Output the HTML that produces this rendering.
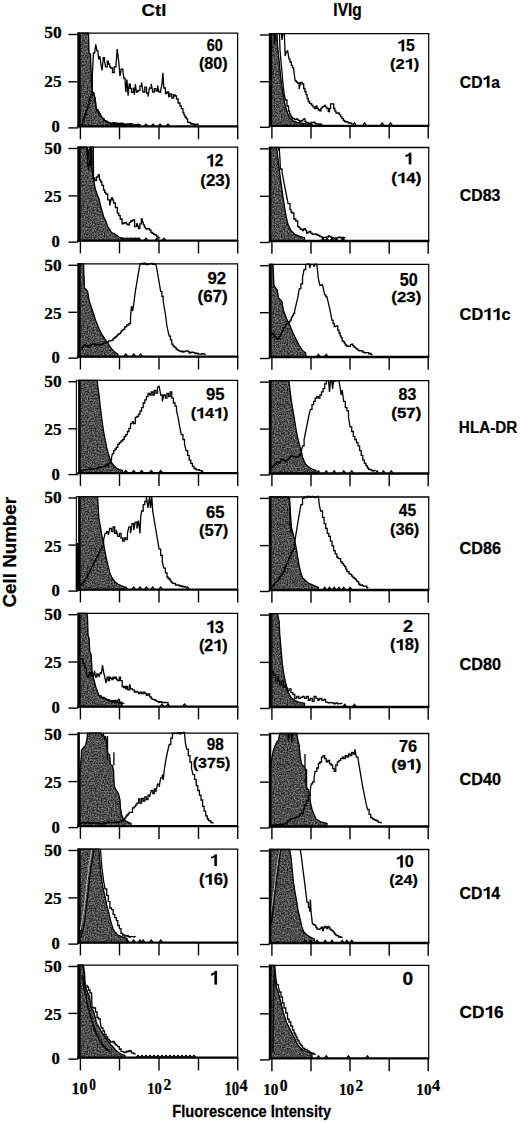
<!DOCTYPE html><html><head><meta charset="utf-8"><style>html,body{margin:0;padding:0;background:#fff;}svg{display:block;}text{font-family:"Liberation Sans",sans-serif;font-weight:bold;fill:#000;stroke:#000;stroke-width:0.25px;}</style></head><body>
<svg width="520" height="1124" viewBox="0 0 520 1124">
<defs><filter id="nz" x="0" y="0" width="120" height="120" filterUnits="userSpaceOnUse" color-interpolation-filters="sRGB"><feTurbulence type="fractalNoise" baseFrequency="0.7" numOctaves="2" seed="5"/><feColorMatrix type="matrix" values="0.8 0 0 0 -0.09  0.8 0 0 0 -0.09  0.8 0 0 0 -0.09  0 0 0 0 1"/></filter><pattern id="gp" patternUnits="userSpaceOnUse" width="120" height="120"><rect width="120" height="120" filter="url(#nz)"/></pattern></defs>
<rect width="520" height="1124" fill="#fff"/>
<polygon points="80.0,126.4 80.0,33.1 88.5,33.1 89.0,53.0 90.5,54.0 91.2,75.0 92.3,92.3 93.5,92.3 95.2,99.2 96.3,109.6 98.1,111.9 100.4,116.0 102.7,118.8 105.6,121.2 108.5,122.9 112.0,124.0 120.0,124.5 130.0,125.0 130.0,126.4" fill="#525252"/>
<polygon points="80.0,126.4 80.0,33.1 88.5,33.1 89.0,53.0 90.5,54.0 91.2,75.0 92.3,92.3 93.5,92.3 95.2,99.2 96.3,109.6 98.1,111.9 100.4,116.0 102.7,118.8 105.6,121.2 108.5,122.9 112.0,124.0 120.0,124.5 130.0,125.0 130.0,126.4" fill="url(#gp)" stroke="#000" stroke-width="1.3"/>
<polyline points="81.5,125.0 83.0,125.0 83.0,120.0 84.0,120.0 84.0,116.8 85.0,116.8 85.0,114.0 86.0,114.0 86.0,110.5 87.0,110.5 87.0,108.0 88.0,108.0 88.0,104.7 89.0,104.7 89.0,101.0 90.0,101.0 90.0,97.4 91.0,97.4 91.0,95.0 92.3,95.0 92.3,91.7 92.3,75.0 93.5,53.0 94.6,53.0 94.6,53.0 95.8,44.4 96.9,50.8 98.0,50.8 98.0,53.0 98.7,58.8 99.8,58.8 99.8,56.0 101.0,64.6 102.1,70.4 103.3,57.7 104.5,57.7 104.5,61.0 105.6,66.9 107.3,66.9 107.3,61.2 108.4,61.2 108.4,64.0 109.6,64.0 109.6,66.9 110.7,66.9 110.7,68.0 112.5,68.0 112.5,72.7 114.2,72.7 114.2,66.9 116.0,66.9 116.0,64.6 117.2,49.0 118.8,62.3 120.0,76.2 121.2,69.2 122.9,69.2 122.9,71.5 124.0,78.5 125.1,78.5 125.1,80.8 125.8,92.3 126.9,79.6 128.1,95.8 129.2,84.2 130.3,84.2 130.3,88.3 131.5,88.3 131.5,92.3 133.3,92.3 133.3,87.7 134.4,94.6 135.3,84.0 136.5,92.0 137.5,92.0 137.5,91.0 138.5,91.0 138.5,90.3 140.0,90.3 140.0,86.0 141.6,86.0 141.6,82.4 143.0,92.0 144.8,92.0 144.8,87.1 146.5,87.1 146.5,93.0 148.0,93.0 148.0,96.6 149.5,88.0 151.2,88.0 151.2,84.0 152.8,92.0 154.3,92.0 154.3,88.7 156.0,88.7 156.0,91.0 157.5,91.0 157.5,85.5 159.0,92.0 160.7,92.0 160.7,90.3 162.0,84.0 162.9,72.8 163.8,88.0 165.4,88.0 165.4,93.5 167.0,93.5 167.0,92.0 168.6,92.0 168.6,96.6 170.0,96.6 170.0,94.0 171.8,94.0 171.8,98.2 173.5,98.2 173.5,95.0 175.0,95.0 175.0,96.0 176.5,96.0 176.5,99.0 178.1,99.0 178.1,103.0 180.0,103.0 180.0,106.0 181.4,106.0 181.4,108.6 182.9,108.6 182.9,112.5 183.9,112.5 183.9,114.8 185.0,114.8 185.0,117.0 186.3,117.0 186.3,118.9 187.6,118.9 187.6,122.0 188.7,122.0 188.7,122.6 189.7,122.6 189.7,122.7 190.8,122.7 190.8,124.0 192.0,124.0 192.0,123.6 193.2,123.6 193.2,124.1 194.4,124.1 194.4,124.8 195.6,124.8 195.6,124.5 196.8,124.5 196.8,124.2 198.0,124.2 198.0,125.0" fill="none" stroke="#000" stroke-width="1.3" stroke-linejoin="miter" stroke-miterlimit="2"/>
<polyline points="93.5,92.3 95.2,99.2 96.3,109.6 98.1,109.6 98.1,111.9 99.2,111.9 99.2,113.6 100.4,113.6 100.4,116.0 101.6,116.0 101.6,117.6 102.7,117.6 102.7,118.8 104.2,118.8 104.2,120.6 105.6,120.6 105.6,121.2 107.0,121.2 107.0,122.2 108.5,122.2 108.5,122.9 109.7,122.9 109.7,123.0 110.8,123.0 110.8,124.0 112.0,124.0 112.0,123.5 113.0,123.5 113.0,122.6 114.0,122.6 114.0,123.5 115.0,123.5 115.0,122.8 116.0,122.8 116.0,123.1 117.0,123.1 117.0,123.4 118.0,123.4 118.0,124.5 119.0,124.5 119.0,123.5 120.0,123.5 120.0,123.4 121.0,123.4 121.0,123.2 122.0,123.2 122.0,124.1 123.0,124.1 123.0,123.7 124.0,123.7 124.0,124.6 125.0,124.6 125.0,124.5 126.0,124.5 126.0,124.4 127.0,124.4 127.0,123.8 128.0,123.8 128.0,123.8 129.0,123.8 129.0,124.1 130.0,124.1 130.0,123.6 131.0,123.6 131.0,123.8 132.0,123.8 132.0,124.2 133.0,124.2 133.0,124.8 134.0,124.8 134.0,125.1 135.0,125.1 135.0,124.8 136.0,124.8 136.0,124.6 137.0,124.6 137.0,125.0 138.0,125.0 138.0,124.9 139.0,124.9 139.0,124.7 140.0,124.7 140.0,125.0" fill="none" stroke="#000" stroke-width="1.3" stroke-linejoin="miter" stroke-miterlimit="2"/>
<polyline points="110.4,125.8 112.0,124.2 113.6,125.8" fill="none" stroke="#000" stroke-width="1.3" stroke-linejoin="miter" stroke-miterlimit="2"/>
<polyline points="116.4,125.8 118.0,124.2 119.6,125.8" fill="none" stroke="#000" stroke-width="1.3" stroke-linejoin="miter" stroke-miterlimit="2"/>
<polyline points="123.4,125.8 125.0,124.2 126.6,125.8" fill="none" stroke="#000" stroke-width="1.3" stroke-linejoin="miter" stroke-miterlimit="2"/>
<polyline points="129.4,125.8 131.0,124.2 132.6,125.8" fill="none" stroke="#000" stroke-width="1.3" stroke-linejoin="miter" stroke-miterlimit="2"/>
<polyline points="136.4,125.8 138.0,124.2 139.6,125.8" fill="none" stroke="#000" stroke-width="1.3" stroke-linejoin="miter" stroke-miterlimit="2"/>
<polyline points="144.4,125.8 146.0,124.2 147.6,125.8" fill="none" stroke="#000" stroke-width="1.3" stroke-linejoin="miter" stroke-miterlimit="2"/>
<polyline points="151.4,125.8 153.0,124.2 154.6,125.8" fill="none" stroke="#000" stroke-width="1.3" stroke-linejoin="miter" stroke-miterlimit="2"/>
<polyline points="158.4,125.8 160.0,124.2 161.6,125.8" fill="none" stroke="#000" stroke-width="1.3" stroke-linejoin="miter" stroke-miterlimit="2"/>
<polyline points="166.4,125.8 168.0,124.2 169.6,125.8" fill="none" stroke="#000" stroke-width="1.3" stroke-linejoin="miter" stroke-miterlimit="2"/>
<rect x="77.3" y="32.49999999999999" width="2.6000000000000085" height="94.70000000000002" fill="#000"/>
<line x1="77.3" y1="33.099999999999994" x2="238.2" y2="33.099999999999994" stroke="#000" stroke-width="1.3"/>
<line x1="237.6" y1="33.099999999999994" x2="237.6" y2="126.4" stroke="#000" stroke-width="1.2"/>
<line x1="77.3" y1="126.4" x2="238.2" y2="126.4" stroke="#000" stroke-width="2.3"/>
<line x1="68.4" y1="34.5" x2="77.3" y2="34.5" stroke="#000" stroke-width="1.4"/>
<line x1="68.4" y1="81.8" x2="77.3" y2="81.8" stroke="#000" stroke-width="1.4"/>
<line x1="68.4" y1="127.9" x2="77.3" y2="127.9" stroke="#000" stroke-width="1.4"/>
<line x1="77.8" y1="126.4" x2="77.8" y2="128.6" stroke="#000" stroke-width="1"/>
<line x1="80.4" y1="126.4" x2="80.4" y2="139.20000000000002" stroke="#000" stroke-width="1.4"/>
<line x1="119.5" y1="126.4" x2="119.5" y2="139.20000000000002" stroke="#000" stroke-width="1.4"/>
<line x1="159" y1="126.4" x2="159" y2="139.20000000000002" stroke="#000" stroke-width="1.4"/>
<line x1="198.5" y1="126.4" x2="198.5" y2="139.20000000000002" stroke="#000" stroke-width="1.4"/>
<line x1="237.7" y1="126.4" x2="237.7" y2="139.20000000000002" stroke="#000" stroke-width="1.4"/>
<text transform="translate(44.25,38.25) scale(1.028,1)" font-size="16.92" style="font-family:'Liberation Serif',serif">50</text>
<text transform="translate(44.26,86.85) scale(1.015,1)" font-size="17.05" style="font-family:'Liberation Serif',serif">25</text>
<text transform="translate(51.38,132.15) scale(0.985,1)" font-size="16.92" style="font-family:'Liberation Serif',serif">0</text>
<polygon points="271.5,125.8 271.5,33.6 274.0,33.6 274.7,44.0 275.3,33.6 277.0,33.6 277.5,45.4 279.1,60.8 280.6,76.2 282.2,88.5 283.7,97.7 285.2,105.4 287.5,113.0 289.8,117.7 292.9,120.8 296.8,122.3 301.4,123.1 306.0,123.8 312.0,124.2 312.0,125.8" fill="#525252"/>
<polygon points="271.5,125.8 271.5,33.6 274.0,33.6 274.7,44.0 275.3,33.6 277.0,33.6 277.5,45.4 279.1,60.8 280.6,76.2 282.2,88.5 283.7,97.7 285.2,105.4 287.5,113.0 289.8,117.7 292.9,120.8 296.8,122.3 301.4,123.1 306.0,123.8 312.0,124.2 312.0,125.8" fill="url(#gp)" stroke="#000" stroke-width="1.3"/>
<polyline points="279.5,33.6 280.0,50.0 281.0,62.0 282.0,72.0 283.0,84.0 284.0,93.0 285.5,100.0 287.0,100.0 287.0,106.0 288.5,106.0 288.5,111.0 289.5,111.0 289.5,113.9 290.5,113.9 290.5,116.0 291.5,116.0 291.5,117.5 292.5,117.5 292.5,118.5 293.5,118.5 293.5,118.6 294.5,118.6 294.5,119.5 295.5,119.5 295.5,119.4 296.5,119.4 296.5,119.0 297.5,119.0 297.5,119.8 298.5,119.8 298.5,120.5 299.8,120.5 299.8,121.3 301.0,121.3 301.0,121.0 302.0,121.0 302.0,120.7 303.0,120.7 303.0,119.4 304.0,119.4 304.0,119.0 305.0,119.0 305.0,121.4 306.0,121.4 306.0,122.5 307.0,122.5 307.0,122.3 308.0,122.3 308.0,123.1 309.0,123.1 309.0,123.5 310.0,123.5 310.0,123.6 311.0,123.6 311.0,122.5 312.0,122.5 312.0,122.7 313.0,122.7 313.0,122.5 314.0,122.5 314.0,122.2 315.0,122.2 315.0,123.5 316.0,123.5 316.0,124.0 317.0,124.0 317.0,124.0 318.0,124.0 318.0,124.2 319.0,124.2 319.0,124.7 320.0,124.7 320.0,124.0 321.0,124.0 321.0,124.7 322.0,124.7 322.0,124.5" fill="none" stroke="#000" stroke-width="1.3" stroke-linejoin="miter" stroke-miterlimit="2"/>
<polyline points="281.5,33.6 282.0,40.0 283.0,33.6 284.5,33.6 284.5,37.7 285.2,56.0 286.0,52.0 287.5,52.0 287.5,50.0 289.0,59.2 290.0,59.2 290.0,62.0 291.4,62.0 291.4,65.4 292.5,65.4 292.5,67.8 293.7,67.8 293.7,70.0 295.2,80.8 296.4,80.8 296.4,82.0 297.5,82.0 297.5,83.0 299.1,83.0 299.1,89.2 300.6,82.3 302.0,82.3 302.0,84.0 303.7,84.0 303.7,88.5 304.9,88.5 304.9,91.5 306.0,91.5 306.0,94.6 307.1,94.6 307.1,98.5 308.3,98.5 308.3,101.5 309.5,101.5 309.5,103.3 310.6,103.3 310.6,103.8 311.8,103.8 311.8,105.3 312.9,105.3 312.9,106.9 314.5,106.9 314.5,108.5 316.0,108.5 316.0,106.2 317.1,106.2 317.1,108.3 318.3,108.3 318.3,110.0 319.8,110.0 319.8,110.8 321.0,110.8 321.0,108.2 322.2,108.2 322.2,106.9 323.4,106.9 323.4,106.4 324.5,106.4 324.5,105.4 325.6,105.4 325.6,107.2 326.8,107.2 326.8,108.5 328.3,108.5 328.3,111.5 329.5,111.5 329.5,108.3 330.6,108.3 330.6,103.8 332.2,103.8 332.2,103.8 333.7,103.8 333.7,108.5 334.9,108.5 334.9,111.2 336.0,111.2 336.0,113.0 337.8,113.0 337.8,113.0 339.2,113.0 339.2,114.6 340.6,114.6 340.6,116.8 342.0,116.8 342.0,118.5 343.4,118.5 343.4,120.5 344.7,120.5 344.7,121.5 346.0,121.5 346.0,122.0 347.0,122.0 347.0,121.7 348.0,121.7 348.0,122.6 349.0,122.6 349.0,123.0 350.0,123.0 350.0,123.0 351.0,123.0 351.0,123.5 352.0,123.5 352.0,124.5" fill="none" stroke="#000" stroke-width="1.3" stroke-linejoin="miter" stroke-miterlimit="2"/>
<polyline points="352.9,125.2 354.5,122.8 356.1,125.2" fill="none" stroke="#000" stroke-width="1.3" stroke-linejoin="miter" stroke-miterlimit="2"/>
<polyline points="363.0,125.2 364.6,122.8 366.2,125.2" fill="none" stroke="#000" stroke-width="1.3" stroke-linejoin="miter" stroke-miterlimit="2"/>
<polyline points="380.6,125.2 382.2,122.8 383.8,125.2" fill="none" stroke="#000" stroke-width="1.3" stroke-linejoin="miter" stroke-miterlimit="2"/>
<polyline points="388.9,125.2 390.5,122.8 392.1,125.2" fill="none" stroke="#000" stroke-width="1.3" stroke-linejoin="miter" stroke-miterlimit="2"/>
<rect x="268.8" y="32.99999999999999" width="2.5" height="93.60000000000001" fill="#000"/>
<line x1="268.8" y1="33.599999999999994" x2="429.3" y2="33.599999999999994" stroke="#000" stroke-width="1.3"/>
<line x1="428.7" y1="33.599999999999994" x2="428.7" y2="125.8" stroke="#000" stroke-width="1.2"/>
<line x1="268.8" y1="125.8" x2="429.3" y2="125.8" stroke="#000" stroke-width="2.3"/>
<line x1="259.9" y1="35.0" x2="268.8" y2="35.0" stroke="#000" stroke-width="1.4"/>
<line x1="259.9" y1="81.7" x2="268.8" y2="81.7" stroke="#000" stroke-width="1.4"/>
<line x1="259.9" y1="127.3" x2="268.8" y2="127.3" stroke="#000" stroke-width="1.4"/>
<line x1="269.3" y1="125.8" x2="269.3" y2="128.0" stroke="#000" stroke-width="1"/>
<line x1="271.9" y1="125.8" x2="271.9" y2="138.6" stroke="#000" stroke-width="1.4"/>
<line x1="311" y1="125.8" x2="311" y2="138.6" stroke="#000" stroke-width="1.4"/>
<line x1="350" y1="125.8" x2="350" y2="138.6" stroke="#000" stroke-width="1.4"/>
<line x1="389.2" y1="125.8" x2="389.2" y2="138.6" stroke="#000" stroke-width="1.4"/>
<line x1="428.2" y1="125.8" x2="428.2" y2="138.6" stroke="#000" stroke-width="1.4"/>
<polygon points="80.0,240.6 80.0,147.1 86.5,147.1 87.0,150.0 88.0,160.0 88.8,150.0 90.0,147.1 93.3,147.1 93.5,178.0 95.0,188.0 97.0,194.0 99.0,199.0 101.0,207.5 103.8,217.0 105.8,221.0 107.7,226.7 109.5,229.0 111.5,232.5 115.4,234.4 119.2,237.3 122.0,238.5 122.0,240.6" fill="#525252"/>
<polygon points="80.0,240.6 80.0,147.1 86.5,147.1 87.0,150.0 88.0,160.0 88.8,150.0 90.0,147.1 93.3,147.1 93.5,178.0 95.0,188.0 97.0,194.0 99.0,199.0 101.0,207.5 103.8,217.0 105.8,221.0 107.7,226.7 109.5,229.0 111.5,232.5 115.4,234.4 119.2,237.3 122.0,238.5 122.0,240.6" fill="url(#gp)" stroke="#000" stroke-width="1.3"/>
<polyline points="87.3,147.1 87.5,166.0 88.5,166.0 88.5,170.0 89.5,160.0 90.4,166.0 90.4,147.1" fill="none" stroke="#000" stroke-width="1.3" stroke-linejoin="miter" stroke-miterlimit="2"/>
<polyline points="91.0,147.1 92.0,170.0 93.2,178.0 94.8,178.0 94.8,180.5 96.5,180.5 96.5,177.0 98.1,177.0 98.1,174.8 99.5,174.8 99.5,180.0 100.7,180.0 100.7,182.0 101.9,182.0 101.9,185.3 103.5,185.3 103.5,190.0 104.7,190.0 104.7,192.4 105.8,192.4 105.8,194.0 107.7,194.0 107.7,199.8 109.6,199.8 109.6,205.5 111.5,197.8 112.5,197.8 112.5,199.9 113.5,199.9 113.5,203.0 115.4,203.0 115.4,207.5 117.3,207.5 117.3,213.2 118.8,213.2 118.8,215.7 120.2,215.7 120.2,219.0 122.1,219.0 122.1,223.8 123.5,223.8 123.5,223.0 125.0,223.0 125.0,222.5 126.5,222.5 126.5,224.2 127.9,224.2 127.9,224.8 129.4,224.8 129.4,222.3 130.8,222.3 130.8,221.0 132.7,221.0 132.7,220.0 134.6,220.0 134.6,226.7 136.5,226.7 136.5,224.0 137.5,224.0 137.5,226.2 138.5,226.2 138.5,228.6 139.9,228.6 139.9,223.9 141.3,223.9 141.3,219.0 142.3,219.0 142.3,222.4 143.3,222.4 143.3,224.8 144.4,224.8 144.4,227.1 145.5,227.1 145.5,228.6 146.8,228.6 146.8,229.1 148.1,229.1 148.1,228.6 149.6,228.6 149.6,230.2 151.0,230.2 151.0,232.5 152.4,232.5 152.4,233.3 153.8,233.3 153.8,234.4 155.2,234.4 155.2,235.2 156.7,235.2 156.7,236.3 158.1,236.3 158.1,237.9 159.6,237.9 159.6,238.5" fill="none" stroke="#000" stroke-width="1.3" stroke-linejoin="miter" stroke-miterlimit="2"/>
<polyline points="119.2,237.3 122.0,238.2 140.0,238.5" fill="none" stroke="#000" stroke-width="1.3" stroke-linejoin="miter" stroke-miterlimit="2"/>
<polyline points="121.4,240.0 123.0,238.2 124.6,240.0" fill="none" stroke="#000" stroke-width="1.3" stroke-linejoin="miter" stroke-miterlimit="2"/>
<polyline points="125.4,240.0 127.0,238.2 128.6,240.0" fill="none" stroke="#000" stroke-width="1.3" stroke-linejoin="miter" stroke-miterlimit="2"/>
<polyline points="129.4,240.0 131.0,238.2 132.6,240.0" fill="none" stroke="#000" stroke-width="1.3" stroke-linejoin="miter" stroke-miterlimit="2"/>
<polyline points="133.4,240.0 135.0,238.2 136.6,240.0" fill="none" stroke="#000" stroke-width="1.3" stroke-linejoin="miter" stroke-miterlimit="2"/>
<polyline points="137.4,240.0 139.0,238.2 140.6,240.0" fill="none" stroke="#000" stroke-width="1.3" stroke-linejoin="miter" stroke-miterlimit="2"/>
<polyline points="144.4,240.0 146.0,238.2 147.6,240.0" fill="none" stroke="#000" stroke-width="1.3" stroke-linejoin="miter" stroke-miterlimit="2"/>
<polyline points="155.4,240.0 157.0,238.2 158.6,240.0" fill="none" stroke="#000" stroke-width="1.3" stroke-linejoin="miter" stroke-miterlimit="2"/>
<polyline points="162.4,240.0 164.0,238.2 165.6,240.0" fill="none" stroke="#000" stroke-width="1.3" stroke-linejoin="miter" stroke-miterlimit="2"/>
<rect x="77.3" y="146.50000000000003" width="2.6000000000000085" height="94.9" fill="#000"/>
<line x1="77.3" y1="147.10000000000002" x2="238.2" y2="147.10000000000002" stroke="#000" stroke-width="1.3"/>
<line x1="237.6" y1="147.10000000000002" x2="237.6" y2="240.60000000000002" stroke="#000" stroke-width="1.2"/>
<line x1="77.3" y1="240.60000000000002" x2="238.2" y2="240.60000000000002" stroke="#000" stroke-width="2.3"/>
<line x1="68.4" y1="148.5" x2="77.3" y2="148.5" stroke="#000" stroke-width="1.4"/>
<line x1="68.4" y1="195.9" x2="77.3" y2="195.9" stroke="#000" stroke-width="1.4"/>
<line x1="68.4" y1="242.1" x2="77.3" y2="242.1" stroke="#000" stroke-width="1.4"/>
<line x1="77.8" y1="240.60000000000002" x2="77.8" y2="242.8" stroke="#000" stroke-width="1"/>
<line x1="80.4" y1="240.60000000000002" x2="80.4" y2="253.40000000000003" stroke="#000" stroke-width="1.4"/>
<line x1="119.5" y1="240.60000000000002" x2="119.5" y2="253.40000000000003" stroke="#000" stroke-width="1.4"/>
<line x1="159" y1="240.60000000000002" x2="159" y2="253.40000000000003" stroke="#000" stroke-width="1.4"/>
<line x1="198.5" y1="240.60000000000002" x2="198.5" y2="253.40000000000003" stroke="#000" stroke-width="1.4"/>
<line x1="237.7" y1="240.60000000000002" x2="237.7" y2="253.40000000000003" stroke="#000" stroke-width="1.4"/>
<text transform="translate(44.25,153.75) scale(1.028,1)" font-size="16.92" style="font-family:'Liberation Serif',serif">50</text>
<text transform="translate(44.26,202.35) scale(1.015,1)" font-size="17.05" style="font-family:'Liberation Serif',serif">25</text>
<text transform="translate(51.38,247.25) scale(0.985,1)" font-size="16.92" style="font-family:'Liberation Serif',serif">0</text>
<polygon points="270.5,241.0 270.5,147.5 276.6,147.5 278.5,163.2 280.4,178.6 282.3,192.0 284.3,205.5 286.2,217.0 288.1,224.8 291.0,230.5 294.8,234.4 299.7,236.3 304.5,237.8 304.5,241.0" fill="#525252"/>
<polygon points="270.5,241.0 270.5,147.5 276.6,147.5 278.5,163.2 280.4,178.6 282.3,192.0 284.3,205.5 286.2,217.0 288.1,224.8 291.0,230.5 294.8,234.4 299.7,236.3 304.5,237.8 304.5,241.0" fill="url(#gp)" stroke="#000" stroke-width="1.3"/>
<polyline points="277.5,147.5 278.5,147.5 278.5,150.0 279.2,150.0 279.2,147.5 280.0,160.0 280.4,169.0 282.0,169.0 282.0,172.0 284.3,184.4 286.2,194.0 288.1,203.6 290.0,203.6 290.0,209.4 291.0,209.4 291.0,211.8 292.0,211.8 292.0,213.0 293.9,213.0 293.9,219.0 295.8,219.0 295.8,221.0 297.7,221.0 297.7,226.7 298.9,226.7 298.9,227.4 300.0,227.4 300.0,229.0 301.2,229.0 301.2,229.3 302.5,229.3 302.5,230.5 303.5,230.5 303.5,229.2 304.5,229.2 304.5,228.6 305.5,228.6 305.5,230.4 306.5,230.4 306.5,233.0 307.9,233.0 307.9,232.2 309.3,232.2 309.3,231.5 310.8,231.5 310.8,233.1 312.2,233.1 312.2,234.4 313.5,234.4 313.5,234.1 314.7,234.1 314.7,233.8 316.0,233.8 316.0,234.5 317.3,234.5 317.3,235.0 318.5,235.0 318.5,235.5 319.8,235.5 319.8,236.3 320.9,236.3 320.9,236.7 321.9,236.7 321.9,237.5 322.9,237.5 322.9,237.5 324.0,237.5 324.0,237.5 325.1,237.5 325.1,237.3 326.2,237.3 326.2,237.2 327.3,237.2 327.3,237.0 328.4,237.0 328.4,235.9 329.5,235.9 329.5,236.3 330.6,236.3 330.6,237.2 331.8,237.2 331.8,237.5 332.9,237.5 332.9,238.0 334.1,238.0 334.1,238.2 335.2,238.2 335.2,238.2 336.4,238.2 336.4,237.9 337.6,237.9 337.6,237.7 338.8,237.7 338.8,237.1 340.0,237.1 340.0,237.5 341.2,237.5 341.2,238.0 342.4,238.0 342.4,237.4 343.6,237.4 343.6,237.7 344.8,237.7 344.8,238.6" fill="none" stroke="#000" stroke-width="1.3" stroke-linejoin="miter" stroke-miterlimit="2"/>
<polyline points="321.4,240.4 323.0,238.4 324.6,240.4" fill="none" stroke="#000" stroke-width="1.3" stroke-linejoin="miter" stroke-miterlimit="2"/>
<polyline points="325.4,240.4 327.0,238.4 328.6,240.4" fill="none" stroke="#000" stroke-width="1.3" stroke-linejoin="miter" stroke-miterlimit="2"/>
<polyline points="330.4,240.4 332.0,238.4 333.6,240.4" fill="none" stroke="#000" stroke-width="1.3" stroke-linejoin="miter" stroke-miterlimit="2"/>
<polyline points="334.4,240.4 336.0,238.4 337.6,240.4" fill="none" stroke="#000" stroke-width="1.3" stroke-linejoin="miter" stroke-miterlimit="2"/>
<polyline points="341.4,240.4 343.0,238.4 344.6,240.4" fill="none" stroke="#000" stroke-width="1.3" stroke-linejoin="miter" stroke-miterlimit="2"/>
<rect x="268.8" y="146.9" width="2.5" height="94.9" fill="#000"/>
<line x1="268.8" y1="147.5" x2="429.3" y2="147.5" stroke="#000" stroke-width="1.3"/>
<line x1="428.7" y1="147.5" x2="428.7" y2="241.0" stroke="#000" stroke-width="1.2"/>
<line x1="268.8" y1="241.0" x2="429.3" y2="241.0" stroke="#000" stroke-width="2.3"/>
<line x1="259.9" y1="148.9" x2="268.8" y2="148.9" stroke="#000" stroke-width="1.4"/>
<line x1="259.9" y1="196.3" x2="268.8" y2="196.3" stroke="#000" stroke-width="1.4"/>
<line x1="259.9" y1="242.5" x2="268.8" y2="242.5" stroke="#000" stroke-width="1.4"/>
<line x1="269.3" y1="241.0" x2="269.3" y2="243.2" stroke="#000" stroke-width="1"/>
<line x1="271.9" y1="241.0" x2="271.9" y2="253.8" stroke="#000" stroke-width="1.4"/>
<line x1="311" y1="241.0" x2="311" y2="253.8" stroke="#000" stroke-width="1.4"/>
<line x1="350" y1="241.0" x2="350" y2="253.8" stroke="#000" stroke-width="1.4"/>
<line x1="389.2" y1="241.0" x2="389.2" y2="253.8" stroke="#000" stroke-width="1.4"/>
<line x1="428.2" y1="241.0" x2="428.2" y2="253.8" stroke="#000" stroke-width="1.4"/>
<polygon points="80.0,356.6 80.0,263.9 83.5,263.9 84.5,288.6 86.0,289.0 87.7,291.7 89.3,301.3 92.5,310.8 95.6,320.3 98.8,328.2 102.0,334.6 105.1,339.3 108.3,344.1 111.5,348.8 114.7,352.0 117.8,354.0 117.8,356.6" fill="#525252"/>
<polygon points="80.0,356.6 80.0,263.9 83.5,263.9 84.5,288.6 86.0,289.0 87.7,291.7 89.3,301.3 92.5,310.8 95.6,320.3 98.8,328.2 102.0,334.6 105.1,339.3 108.3,344.1 111.5,348.8 114.7,352.0 117.8,354.0 117.8,356.6" fill="url(#gp)" stroke="#000" stroke-width="1.3"/>
<polyline points="81.3,348.8 82.4,348.8 82.4,347.1 83.4,347.1 83.4,345.8 84.5,345.8 84.5,345.0 85.6,345.0 85.6,345.4 86.6,345.4 86.6,345.7 87.7,345.7 87.7,347.0 88.8,347.0 88.8,345.6 90.0,345.6 90.0,345.5 91.2,345.5 91.2,344.3 92.5,344.3 92.5,344.1 93.8,344.1 93.8,344.2 95.0,344.2 95.0,345.5 96.0,345.5 96.0,344.8 97.0,344.8 97.0,344.5 98.0,344.5 98.0,344.1 99.0,344.1 99.0,345.0 100.0,345.0 100.0,345.2 101.0,345.2 101.0,344.5 102.0,344.5 102.0,344.0 103.2,344.0 103.2,343.1 104.3,343.1 104.3,342.9 105.5,342.9 105.5,342.7 106.7,342.7 106.7,342.5 107.8,342.5 107.8,341.8 108.8,341.8 108.8,340.9 109.9,340.9 109.9,340.9 111.0,340.9 111.0,340.7 112.0,340.7 112.0,340.1 113.1,340.1 113.1,338.7 114.2,338.7 114.2,337.8 115.2,337.8 115.2,337.0 116.3,337.0 116.3,336.2 117.3,336.2 117.3,334.8 118.4,334.8 118.4,333.9 119.4,333.9 119.4,333.6 120.5,333.6 120.5,332.1 121.5,332.1 121.5,330.7 122.6,330.7 122.6,329.8 123.7,329.8 123.7,329.2 124.7,329.2 124.7,327.2 125.8,327.2 125.8,326.6 126.8,326.6 126.8,324.9 127.9,324.9 127.9,325.2 128.9,325.2 128.9,323.5 130.5,323.5 130.5,317.1 131.5,306.0 132.7,311.0 133.7,304.4 135.3,291.7 136.9,282.2 138.5,272.7 140.0,263.9 141.1,263.9 141.1,263.9 142.1,263.9 142.1,263.4 143.2,263.4 143.2,264.0 144.2,264.0 144.2,263.2 145.3,263.2 145.3,263.9 146.4,263.9 146.4,264.6 147.4,264.6 147.4,264.4 148.5,264.4 148.5,264.2 149.5,264.2 149.5,263.6 150.6,263.6 150.6,263.7 151.7,263.7 151.7,263.4 152.7,263.4 152.7,264.3 153.8,264.3 153.8,263.9 154.8,263.9 154.8,264.3 155.9,264.3 155.9,263.9 157.5,272.7 159.1,282.2 160.7,291.7 161.9,291.7 161.9,296.3 163.2,296.3 163.2,301.3 165.4,314.0 167.0,326.6 169.2,336.2 170.5,336.2 170.5,339.8 171.8,339.8 171.8,344.1 172.9,344.1 172.9,345.6 173.9,345.6 173.9,346.9 175.0,346.9 175.0,347.3 176.0,347.3 176.0,348.8 177.1,348.8 177.1,349.8 178.1,349.8 178.1,350.4 179.3,350.4 179.3,351.2 180.5,351.2 180.5,351.5 181.7,351.5 181.7,351.2 182.9,351.2 182.9,352.0 183.9,352.0 183.9,351.7 185.0,351.7 185.0,351.1 186.0,351.1 186.0,351.0 187.1,351.0 187.1,351.0 188.1,351.0 188.1,351.7 189.2,351.7 189.2,353.0 190.5,353.0 190.5,352.5 191.7,352.5 191.7,352.2 193.0,352.2 193.0,352.3 194.0,352.3 194.0,352.9 195.0,352.9 195.0,353.5 196.0,353.5 196.0,353.1 197.0,353.1 197.0,353.5 198.2,353.5 198.2,354.1 199.4,354.1 199.4,354.2 200.7,354.2 200.7,354.2 201.9,354.2 201.9,353.6 202.9,353.6 202.9,353.9 204.0,353.9 204.0,354.1 205.0,354.1 205.0,355.0" fill="none" stroke="#000" stroke-width="1.3" stroke-linejoin="miter" stroke-miterlimit="2"/>
<polyline points="124.2,356.0 125.8,354.0 127.4,356.0" fill="none" stroke="#000" stroke-width="1.3" stroke-linejoin="miter" stroke-miterlimit="2"/>
<polyline points="132.1,356.0 133.7,354.0 135.3,356.0" fill="none" stroke="#000" stroke-width="1.3" stroke-linejoin="miter" stroke-miterlimit="2"/>
<polyline points="138.9,356.0 140.5,354.0 142.1,356.0" fill="none" stroke="#000" stroke-width="1.3" stroke-linejoin="miter" stroke-miterlimit="2"/>
<rect x="77.3" y="263.3" width="2.6000000000000085" height="94.1" fill="#000"/>
<line x1="77.3" y1="263.90000000000003" x2="238.2" y2="263.90000000000003" stroke="#000" stroke-width="1.3"/>
<line x1="237.6" y1="263.90000000000003" x2="237.6" y2="356.6" stroke="#000" stroke-width="1.2"/>
<line x1="77.3" y1="356.6" x2="238.2" y2="356.6" stroke="#000" stroke-width="2.3"/>
<line x1="68.4" y1="265.3" x2="77.3" y2="265.3" stroke="#000" stroke-width="1.4"/>
<line x1="68.4" y1="312.3" x2="77.3" y2="312.3" stroke="#000" stroke-width="1.4"/>
<line x1="68.4" y1="358.1" x2="77.3" y2="358.1" stroke="#000" stroke-width="1.4"/>
<line x1="77.8" y1="356.6" x2="77.8" y2="358.8" stroke="#000" stroke-width="1"/>
<line x1="80.4" y1="356.6" x2="80.4" y2="369.40000000000003" stroke="#000" stroke-width="1.4"/>
<line x1="119.5" y1="356.6" x2="119.5" y2="369.40000000000003" stroke="#000" stroke-width="1.4"/>
<line x1="159" y1="356.6" x2="159" y2="369.40000000000003" stroke="#000" stroke-width="1.4"/>
<line x1="198.5" y1="356.6" x2="198.5" y2="369.40000000000003" stroke="#000" stroke-width="1.4"/>
<line x1="237.7" y1="356.6" x2="237.7" y2="369.40000000000003" stroke="#000" stroke-width="1.4"/>
<text transform="translate(44.25,270.55) scale(1.028,1)" font-size="16.92" style="font-family:'Liberation Serif',serif">50</text>
<text transform="translate(44.26,318.75) scale(1.015,1)" font-size="17.05" style="font-family:'Liberation Serif',serif">25</text>
<text transform="translate(51.38,363.25) scale(0.985,1)" font-size="16.92" style="font-family:'Liberation Serif',serif">0</text>
<polygon points="270.8,357.0 270.8,264.3 273.0,264.3 273.9,285.4 277.1,290.1 278.7,298.1 281.9,301.3 283.5,310.8 286.6,318.7 289.8,325.0 293.0,333.0 296.1,339.3 299.3,345.7 302.5,350.4 305.7,353.0 305.7,357.0" fill="#525252"/>
<polygon points="270.8,357.0 270.8,264.3 273.0,264.3 273.9,285.4 277.1,290.1 278.7,298.1 281.9,301.3 283.5,310.8 286.6,318.7 289.8,325.0 293.0,333.0 296.1,339.3 299.3,345.7 302.5,350.4 305.7,353.0 305.7,357.0" fill="url(#gp)" stroke="#000" stroke-width="1.3"/>
<polyline points="270.8,333.0 271.8,333.0 271.8,333.7 272.9,333.7 272.9,334.7 273.9,334.7 273.9,336.2 275.0,336.2 275.0,336.8 276.0,336.8 276.0,338.4 277.1,338.4 277.1,339.3 278.2,339.3 278.2,338.3 279.2,338.3 279.2,336.6 280.3,336.6 280.3,334.6 281.4,334.6 281.4,332.4 282.4,332.4 282.4,330.5 283.5,330.5 283.5,328.2 284.5,328.2 284.5,327.1 285.6,327.1 285.6,324.5 286.6,324.5 286.6,323.5 287.7,323.5 287.7,322.9 288.8,322.9 288.8,321.9 290.1,321.9 290.1,320.1 291.4,320.1 291.4,317.1 292.5,317.1 292.5,315.4 293.5,315.4 293.5,313.3 294.6,313.3 294.6,310.8 297.7,298.1 299.3,288.6 300.9,288.6 300.9,283.8 302.5,283.8 302.5,277.5 304.1,269.5 305.7,269.5 305.7,264.3 306.8,264.3 306.8,264.3 307.9,264.3 307.9,263.8 309.0,263.8 309.0,264.3 309.8,268.0 310.6,264.3 311.8,264.3 311.8,264.7 313.0,264.7 313.0,264.3 313.8,264.3 313.8,266.0 314.6,266.0 314.6,264.3 315.7,264.3 315.7,264.1 316.8,264.1 316.8,264.3 318.4,279.0 319.9,285.4 321.1,285.4 321.1,285.1 322.3,285.1 322.3,284.0 324.7,294.9 325.8,294.9 325.8,296.6 326.9,296.6 326.9,297.0 329.5,307.6 332.0,320.3 333.1,320.3 333.1,323.3 334.2,323.3 334.2,326.6 335.4,326.6 335.4,326.2 336.5,326.2 336.5,326.0 337.8,326.0 337.8,330.1 339.0,330.1 339.0,333.0 340.1,333.0 340.1,335.9 341.1,335.9 341.1,337.8 342.2,337.8 342.2,340.9 343.2,340.9 343.2,341.7 344.3,341.7 344.3,343.1 345.3,343.1 345.3,345.0 346.6,345.0 346.6,346.0 347.8,346.0 347.8,346.3 349.1,346.3 349.1,346.3 350.4,346.3 350.4,344.7 351.7,344.7 351.7,344.1 352.7,344.1 352.7,345.6 353.8,345.6 353.8,346.9 354.8,346.9 354.8,347.3 355.9,347.3 355.9,348.6 356.9,348.6 356.9,349.2 358.0,349.2 358.0,350.4 359.2,350.4 359.2,350.9 360.4,350.9 360.4,350.7 361.6,350.7 361.6,350.9 362.8,350.9 362.8,352.0 364.0,352.0 364.0,352.8 365.1,352.8 365.1,352.6 366.3,352.6 366.3,352.6 367.5,352.6 367.5,352.7 368.7,352.7 368.7,353.8 369.9,353.8 369.9,353.5 371.1,353.5 371.1,354.6 372.3,354.6 372.3,354.5" fill="none" stroke="#000" stroke-width="1.3" stroke-linejoin="miter" stroke-miterlimit="2"/>
<polyline points="316.8,356.4 318.4,354.4 320.0,356.4" fill="none" stroke="#000" stroke-width="1.3" stroke-linejoin="miter" stroke-miterlimit="2"/>
<polyline points="324.7,356.4 326.3,354.4 327.9,356.4" fill="none" stroke="#000" stroke-width="1.3" stroke-linejoin="miter" stroke-miterlimit="2"/>
<rect x="268.8" y="263.7" width="2.5" height="94.1" fill="#000"/>
<line x1="268.8" y1="264.3" x2="429.3" y2="264.3" stroke="#000" stroke-width="1.3"/>
<line x1="428.7" y1="264.3" x2="428.7" y2="357.0" stroke="#000" stroke-width="1.2"/>
<line x1="268.8" y1="357.0" x2="429.3" y2="357.0" stroke="#000" stroke-width="2.3"/>
<line x1="259.9" y1="265.7" x2="268.8" y2="265.7" stroke="#000" stroke-width="1.4"/>
<line x1="259.9" y1="312.7" x2="268.8" y2="312.7" stroke="#000" stroke-width="1.4"/>
<line x1="259.9" y1="358.5" x2="268.8" y2="358.5" stroke="#000" stroke-width="1.4"/>
<line x1="269.3" y1="357.0" x2="269.3" y2="359.2" stroke="#000" stroke-width="1"/>
<line x1="271.9" y1="357.0" x2="271.9" y2="369.8" stroke="#000" stroke-width="1.4"/>
<line x1="311" y1="357.0" x2="311" y2="369.8" stroke="#000" stroke-width="1.4"/>
<line x1="350" y1="357.0" x2="350" y2="369.8" stroke="#000" stroke-width="1.4"/>
<line x1="389.2" y1="357.0" x2="389.2" y2="369.8" stroke="#000" stroke-width="1.4"/>
<line x1="428.2" y1="357.0" x2="428.2" y2="369.8" stroke="#000" stroke-width="1.4"/>
<polygon points="80.0,473.1 80.0,380.3 97.2,380.3 97.8,386.5 99.0,395.0 100.4,407.7 102.0,420.4 103.6,431.5 105.1,439.5 106.7,447.4 108.3,453.7 109.9,458.5 111.5,462.3 113.1,464.8 116.3,468.0 119.4,469.6 122.6,470.6 122.6,473.1" fill="#525252"/>
<polygon points="80.0,473.1 80.0,380.3 97.2,380.3 97.8,386.5 99.0,395.0 100.4,407.7 102.0,420.4 103.6,431.5 105.1,439.5 106.7,447.4 108.3,453.7 109.9,458.5 111.5,462.3 113.1,464.8 116.3,468.0 119.4,469.6 122.6,470.6 122.6,473.1" fill="url(#gp)" stroke="#000" stroke-width="1.3"/>
<polyline points="79.8,471.0 80.8,471.0 80.8,471.2 81.9,471.2 81.9,470.1 83.0,470.1 83.0,469.9 84.0,469.9 84.0,470.0 85.0,470.0 85.0,469.6 86.0,469.6 86.0,469.4 87.0,469.4 87.0,469.7 88.0,469.7 88.0,469.5 89.0,469.5 89.0,469.0 90.0,469.0 90.0,469.1 91.0,469.1 91.0,468.6 92.0,468.6 92.0,469.0 93.0,469.0 93.0,469.4 94.0,469.4 94.0,468.5 95.0,468.5 95.0,468.6 96.0,468.6 96.0,468.5 97.0,468.5 97.0,468.2 98.0,468.2 98.0,468.3 99.0,468.3 99.0,467.3 100.0,467.3 100.0,467.0 101.0,467.0 101.0,467.5 102.0,467.5 102.0,466.8 103.0,466.8 103.0,466.7 104.0,466.7 104.0,466.5 105.0,466.5 105.0,466.0 106.0,466.0 106.0,464.8 107.0,464.8 107.0,465.0 108.2,465.0 108.2,463.9 109.5,463.9 109.5,463.0 110.5,463.0 110.5,460.1 111.5,460.1 111.5,458.0 112.4,453.7 113.7,453.7 113.7,450.6 115.0,450.6 115.0,449.0 116.3,449.0 116.3,447.4 117.8,447.4 117.8,444.2 119.4,444.2 119.4,442.6 121.0,442.6 121.0,441.0 122.6,441.0 122.6,439.5 124.2,439.5 124.2,436.5 125.8,436.5 125.8,434.7 127.4,434.7 127.4,431.5 128.9,431.5 128.9,428.4 130.5,428.4 130.5,423.6 132.1,423.6 132.1,422.0 133.7,422.0 133.7,423.6 135.3,423.6 135.3,417.3 136.9,417.3 136.9,416.5 138.5,416.5 138.5,414.1 140.0,414.1 140.0,411.0 141.6,411.0 141.6,407.7 143.2,407.7 143.2,403.0 144.8,403.0 144.8,399.8 146.4,399.8 146.4,396.6 148.0,396.6 148.0,393.5 149.6,393.5 149.6,395.0 151.2,395.0 151.2,391.9 152.8,391.9 152.8,395.0 154.3,395.0 154.3,390.3 155.9,390.3 155.9,393.0 157.5,393.0 157.5,387.1 159.1,387.1 159.1,385.5 160.7,395.0 162.3,395.0 162.3,401.4 163.8,395.0 165.4,395.0 165.4,398.2 167.0,398.2 167.0,393.5 168.6,393.5 168.6,396.6 170.2,396.6 170.2,391.9 171.8,391.9 171.8,398.2 173.4,398.2 173.4,403.0 175.0,403.0 175.0,406.1 176.5,406.1 176.5,410.9 178.1,417.3 179.7,426.8 181.3,434.7 182.9,434.7 182.9,439.5 184.5,439.5 184.5,444.2 186.1,450.6 187.6,450.6 187.6,455.3 189.2,455.3 189.2,460.1 190.8,460.1 190.8,463.3 192.4,463.3 192.4,466.4 194.0,466.4 194.0,468.7 195.1,468.7 195.1,468.4 196.1,468.4 196.1,469.9 197.2,469.9 197.2,469.9 198.2,469.9 198.2,469.7 199.3,469.7 199.3,470.3 200.3,470.3 200.3,470.6 201.7,470.6 201.7,471.4 203.0,471.4 203.0,471.5" fill="none" stroke="#000" stroke-width="1.3" stroke-linejoin="miter" stroke-miterlimit="2"/>
<polyline points="124.2,472.5 125.8,470.5 127.4,472.5" fill="none" stroke="#000" stroke-width="1.3" stroke-linejoin="miter" stroke-miterlimit="2"/>
<polyline points="132.1,472.5 133.7,470.5 135.3,472.5" fill="none" stroke="#000" stroke-width="1.3" stroke-linejoin="miter" stroke-miterlimit="2"/>
<polyline points="140.0,472.5 141.6,470.5 143.2,472.5" fill="none" stroke="#000" stroke-width="1.3" stroke-linejoin="miter" stroke-miterlimit="2"/>
<polyline points="149.6,472.5 151.2,470.5 152.8,472.5" fill="none" stroke="#000" stroke-width="1.3" stroke-linejoin="miter" stroke-miterlimit="2"/>
<polyline points="159.1,472.5 160.7,470.5 162.3,472.5" fill="none" stroke="#000" stroke-width="1.3" stroke-linejoin="miter" stroke-miterlimit="2"/>
<rect x="78.1" y="379.7" width="1.8" height="94.20000000000002" fill="#000"/>
<rect x="75.8" y="379.7" width="1.1" height="94.20000000000002" fill="#000"/>
<line x1="77.3" y1="380.3" x2="238.2" y2="380.3" stroke="#000" stroke-width="1.3"/>
<line x1="237.6" y1="380.3" x2="237.6" y2="473.1" stroke="#000" stroke-width="1.2"/>
<line x1="77.3" y1="473.1" x2="238.2" y2="473.1" stroke="#000" stroke-width="2.3"/>
<line x1="68.4" y1="381.7" x2="77.3" y2="381.7" stroke="#000" stroke-width="1.4"/>
<line x1="68.4" y1="428.8" x2="77.3" y2="428.8" stroke="#000" stroke-width="1.4"/>
<line x1="68.4" y1="474.6" x2="77.3" y2="474.6" stroke="#000" stroke-width="1.4"/>
<line x1="77.8" y1="473.1" x2="77.8" y2="475.3" stroke="#000" stroke-width="1"/>
<line x1="80.4" y1="473.1" x2="80.4" y2="485.90000000000003" stroke="#000" stroke-width="1.4"/>
<line x1="119.5" y1="473.1" x2="119.5" y2="485.90000000000003" stroke="#000" stroke-width="1.4"/>
<line x1="159" y1="473.1" x2="159" y2="485.90000000000003" stroke="#000" stroke-width="1.4"/>
<line x1="198.5" y1="473.1" x2="198.5" y2="485.90000000000003" stroke="#000" stroke-width="1.4"/>
<line x1="237.7" y1="473.1" x2="237.7" y2="485.90000000000003" stroke="#000" stroke-width="1.4"/>
<text transform="translate(44.25,386.95) scale(1.028,1)" font-size="16.92" style="font-family:'Liberation Serif',serif">50</text>
<text transform="translate(44.26,435.20) scale(1.015,1)" font-size="17.05" style="font-family:'Liberation Serif',serif">25</text>
<text transform="translate(51.38,479.75) scale(0.985,1)" font-size="16.92" style="font-family:'Liberation Serif',serif">0</text>
<polygon points="270.8,473.5 270.8,380.7 288.8,380.7 289.8,388.7 291.4,401.4 293.0,410.9 294.6,420.4 296.1,430.0 297.7,437.9 299.3,444.2 300.9,450.6 302.5,456.9 304.1,461.0 305.7,464.2 308.8,467.1 312.0,469.0 316.0,470.5 316.0,473.5" fill="#525252"/>
<polygon points="270.8,473.5 270.8,380.7 288.8,380.7 289.8,388.7 291.4,401.4 293.0,410.9 294.6,420.4 296.1,430.0 297.7,437.9 299.3,444.2 300.9,450.6 302.5,456.9 304.1,461.0 305.7,464.2 308.8,467.1 312.0,469.0 316.0,470.5 316.0,473.5" fill="url(#gp)" stroke="#000" stroke-width="1.3"/>
<polyline points="270.8,468.0 271.9,468.0 271.9,467.1 272.9,467.1 272.9,465.8 274.0,465.8 274.0,465.0 275.0,465.0 275.0,463.9 276.1,463.9 276.1,462.9 277.1,462.9 277.1,461.7 278.7,461.7 278.7,463.3 279.8,463.3 279.8,462.3 280.8,462.3 280.8,459.9 281.9,459.9 281.9,459.1 282.9,459.1 282.9,460.0 284.0,460.0 284.0,460.3 285.0,460.3 285.0,461.5 286.1,461.5 286.1,460.2 287.1,460.2 287.1,459.9 288.2,459.9 288.2,458.5 289.3,458.5 289.3,457.4 290.3,457.4 290.3,456.5 291.4,456.5 291.4,455.3 292.4,455.3 292.4,456.2 293.5,456.2 293.5,456.9 294.5,456.9 294.5,456.9 295.6,456.9 295.6,456.8 296.6,456.8 296.6,457.1 297.7,457.1 297.7,456.9 299.0,456.9 299.0,455.3 300.3,455.3 300.3,453.7 301.5,453.7 301.5,450.6 302.5,445.8 304.1,445.8 304.1,439.5 305.7,431.5 307.3,423.6 308.8,415.7 310.4,409.3 312.0,409.3 312.0,404.6 313.6,404.6 313.6,401.4 315.2,401.4 315.2,398.2 316.8,398.2 316.8,396.6 318.4,396.6 318.4,398.2 319.9,398.2 319.9,395.0 321.5,395.0 321.5,391.9 323.1,391.9 323.1,388.7 324.7,388.7 324.7,383.9 326.3,383.9 326.3,380.7 327.4,380.7 327.4,380.7 328.5,380.7 328.5,380.7 329.5,392.0 330.5,380.7 331.8,380.7 331.8,380.7 332.6,389.0 333.5,380.7 334.6,380.7 334.6,381.0 335.7,381.0 335.7,380.6 336.8,380.6 336.8,380.7 337.9,380.7 337.9,380.7 339.0,380.7 339.0,380.7 341.2,395.0 342.2,390.0 343.7,401.4 345.3,401.4 345.3,407.7 346.9,407.7 346.9,410.9 348.5,410.9 348.5,417.3 350.1,426.8 351.7,426.8 351.7,431.5 353.3,431.5 353.3,436.3 354.8,436.3 354.8,439.5 356.4,439.5 356.4,442.6 358.0,442.6 358.0,445.8 359.6,445.8 359.6,450.6 361.2,450.6 361.2,455.3 362.8,455.3 362.8,460.1 364.4,460.1 364.4,463.3 366.0,463.3 366.0,465.8 367.5,465.8 367.5,468.0 368.6,468.0 368.6,469.3 369.6,469.3 369.6,469.5 370.7,469.5 370.7,469.9 371.8,469.9 371.8,470.7 372.9,470.7 372.9,471.1 373.9,471.1 373.9,470.4 375.0,470.4 375.0,471.0" fill="none" stroke="#000" stroke-width="1.3" stroke-linejoin="miter" stroke-miterlimit="2"/>
<polyline points="316.8,472.9 318.4,470.9 320.0,472.9" fill="none" stroke="#000" stroke-width="1.3" stroke-linejoin="miter" stroke-miterlimit="2"/>
<polyline points="324.7,472.9 326.3,470.9 327.9,472.9" fill="none" stroke="#000" stroke-width="1.3" stroke-linejoin="miter" stroke-miterlimit="2"/>
<polyline points="332.6,472.9 334.2,470.9 335.8,472.9" fill="none" stroke="#000" stroke-width="1.3" stroke-linejoin="miter" stroke-miterlimit="2"/>
<polyline points="342.1,472.9 343.7,470.9 345.3,472.9" fill="none" stroke="#000" stroke-width="1.3" stroke-linejoin="miter" stroke-miterlimit="2"/>
<polyline points="350.1,472.9 351.7,470.9 353.3,472.9" fill="none" stroke="#000" stroke-width="1.3" stroke-linejoin="miter" stroke-miterlimit="2"/>
<polyline points="375.5,472.9 377.1,470.9 378.7,472.9" fill="none" stroke="#000" stroke-width="1.3" stroke-linejoin="miter" stroke-miterlimit="2"/>
<polyline points="381.8,472.9 383.4,470.9 385.0,472.9" fill="none" stroke="#000" stroke-width="1.3" stroke-linejoin="miter" stroke-miterlimit="2"/>
<polyline points="389.7,472.9 391.3,470.9 392.9,472.9" fill="none" stroke="#000" stroke-width="1.3" stroke-linejoin="miter" stroke-miterlimit="2"/>
<rect x="268.8" y="380.09999999999997" width="2.5" height="94.20000000000002" fill="#000"/>
<line x1="268.8" y1="380.7" x2="429.3" y2="380.7" stroke="#000" stroke-width="1.3"/>
<line x1="428.7" y1="380.7" x2="428.7" y2="473.5" stroke="#000" stroke-width="1.2"/>
<line x1="268.8" y1="473.5" x2="429.3" y2="473.5" stroke="#000" stroke-width="2.3"/>
<line x1="259.9" y1="382.1" x2="268.8" y2="382.1" stroke="#000" stroke-width="1.4"/>
<line x1="259.9" y1="429.1" x2="268.8" y2="429.1" stroke="#000" stroke-width="1.4"/>
<line x1="259.9" y1="475.0" x2="268.8" y2="475.0" stroke="#000" stroke-width="1.4"/>
<line x1="269.3" y1="473.5" x2="269.3" y2="475.7" stroke="#000" stroke-width="1"/>
<line x1="271.9" y1="473.5" x2="271.9" y2="486.3" stroke="#000" stroke-width="1.4"/>
<line x1="311" y1="473.5" x2="311" y2="486.3" stroke="#000" stroke-width="1.4"/>
<line x1="350" y1="473.5" x2="350" y2="486.3" stroke="#000" stroke-width="1.4"/>
<line x1="389.2" y1="473.5" x2="389.2" y2="486.3" stroke="#000" stroke-width="1.4"/>
<line x1="428.2" y1="473.5" x2="428.2" y2="486.3" stroke="#000" stroke-width="1.4"/>
<polygon points="80.0,589.6 80.0,496.6 97.6,496.6 98.8,517.4 100.4,526.9 102.0,536.4 103.6,544.4 105.1,552.3 106.7,560.2 108.3,566.6 109.9,572.9 111.5,577.0 114.7,581.5 117.8,584.0 121.0,585.6 124.2,587.0 124.2,589.6" fill="#525252"/>
<polygon points="80.0,589.6 80.0,496.6 97.6,496.6 98.8,517.4 100.4,526.9 102.0,536.4 103.6,544.4 105.1,552.3 106.7,560.2 108.3,566.6 109.9,572.9 111.5,577.0 114.7,581.5 117.8,584.0 121.0,585.6 124.2,587.0 124.2,589.6" fill="url(#gp)" stroke="#000" stroke-width="1.3"/>
<polyline points="79.8,585.6 80.9,585.6 80.9,584.5 81.9,584.5 81.9,583.8 83.0,583.8 83.0,582.0 84.0,582.0 84.0,581.0 85.1,581.0 85.1,578.6 86.1,578.6 86.1,577.7 87.2,577.7 87.2,575.0 88.2,575.0 88.2,573.4 89.3,573.4 89.3,571.3 90.4,571.3 90.4,568.6 91.4,568.6 91.4,566.7 92.5,566.7 92.5,565.0 93.5,565.0 93.5,562.3 94.6,562.3 94.6,561.0 95.6,561.0 95.6,558.6 96.7,558.6 96.7,556.9 97.7,556.9 97.7,555.0 98.8,555.0 98.8,552.3 99.9,552.3 99.9,549.7 100.9,549.7 100.9,548.3 102.0,548.3 102.0,545.9 103.6,545.9 103.6,539.6 105.1,533.3 106.7,533.3 106.7,531.7 108.3,531.7 108.3,535.0 109.9,528.5 111.5,528.5 111.5,531.7 113.1,531.7 113.1,526.9 114.7,526.9 114.7,533.3 116.3,533.3 116.3,530.0 117.8,536.4 119.4,536.4 119.4,533.3 121.0,533.3 121.0,538.0 122.6,538.0 122.6,541.2 124.2,541.2 124.2,538.0 125.8,538.0 125.8,539.6 127.4,539.6 127.4,533.3 128.9,526.9 130.5,526.9 130.5,533.3 132.1,523.7 133.7,523.7 133.7,530.0 135.3,522.1 136.9,522.1 136.9,528.5 138.5,520.6 140.0,533.3 140.7,517.4 141.6,511.0 143.2,511.0 143.2,504.7 144.8,504.7 144.8,501.5 146.4,501.5 146.4,496.6 148.0,508.0 149.6,496.6 150.5,507.9 151.8,496.6 152.7,511.0 154.3,520.6 155.9,530.1 157.5,539.6 159.1,549.1 160.7,549.1 160.7,555.5 162.3,555.5 162.3,561.8 163.8,568.2 165.4,568.2 165.4,572.9 167.0,572.9 167.0,577.0 168.1,577.0 168.1,578.5 169.1,578.5 169.1,579.0 170.2,579.0 170.2,580.8 171.3,580.8 171.3,582.2 172.3,582.2 172.3,583.2 173.4,583.2 173.4,583.4 174.4,583.4 174.4,583.5 175.5,583.5 175.5,585.1 176.5,585.1 176.5,585.0 177.7,585.0 177.7,585.1 178.9,585.1 178.9,585.5 180.1,585.5 180.1,586.4 181.3,586.4 181.3,586.0 182.5,586.0 182.5,586.8 183.7,586.8 183.7,586.3 184.8,586.3 184.8,587.0 186.0,587.0 186.0,587.5" fill="none" stroke="#000" stroke-width="1.3" stroke-linejoin="miter" stroke-miterlimit="2"/>
<polyline points="124.2,589.0 125.8,587.0 127.4,589.0" fill="none" stroke="#000" stroke-width="1.3" stroke-linejoin="miter" stroke-miterlimit="2"/>
<polyline points="132.1,589.0 133.7,587.0 135.3,589.0" fill="none" stroke="#000" stroke-width="1.3" stroke-linejoin="miter" stroke-miterlimit="2"/>
<polyline points="138.4,589.0 140.0,587.0 141.6,589.0" fill="none" stroke="#000" stroke-width="1.3" stroke-linejoin="miter" stroke-miterlimit="2"/>
<polyline points="144.8,589.0 146.4,587.0 148.0,589.0" fill="none" stroke="#000" stroke-width="1.3" stroke-linejoin="miter" stroke-miterlimit="2"/>
<polyline points="151.1,589.0 152.7,587.0 154.3,589.0" fill="none" stroke="#000" stroke-width="1.3" stroke-linejoin="miter" stroke-miterlimit="2"/>
<polyline points="159.1,589.0 160.7,587.0 162.3,589.0" fill="none" stroke="#000" stroke-width="1.3" stroke-linejoin="miter" stroke-miterlimit="2"/>
<polyline points="186.0,589.0 187.6,587.0 189.2,589.0" fill="none" stroke="#000" stroke-width="1.3" stroke-linejoin="miter" stroke-miterlimit="2"/>
<rect x="78.1" y="496.0" width="1.8" height="94.39999999999989" fill="#000"/>
<rect x="75.8" y="496.0" width="1.1" height="94.39999999999989" fill="#000"/>
<rect x="75.8" y="543.0999999999999" width="4" height="47.29999999999994" fill="#000"/>
<line x1="77.3" y1="496.6" x2="238.2" y2="496.6" stroke="#000" stroke-width="1.3"/>
<line x1="237.6" y1="496.6" x2="237.6" y2="589.5999999999999" stroke="#000" stroke-width="1.2"/>
<line x1="77.3" y1="589.5999999999999" x2="238.2" y2="589.5999999999999" stroke="#000" stroke-width="2.3"/>
<line x1="68.4" y1="498.0" x2="77.3" y2="498.0" stroke="#000" stroke-width="1.4"/>
<line x1="68.4" y1="545.1" x2="77.3" y2="545.1" stroke="#000" stroke-width="1.4"/>
<line x1="68.4" y1="591.1" x2="77.3" y2="591.1" stroke="#000" stroke-width="1.4"/>
<line x1="77.8" y1="589.5999999999999" x2="77.8" y2="591.8" stroke="#000" stroke-width="1"/>
<line x1="80.4" y1="589.5999999999999" x2="80.4" y2="602.3999999999999" stroke="#000" stroke-width="1.4"/>
<line x1="119.5" y1="589.5999999999999" x2="119.5" y2="602.3999999999999" stroke="#000" stroke-width="1.4"/>
<line x1="159" y1="589.5999999999999" x2="159" y2="602.3999999999999" stroke="#000" stroke-width="1.4"/>
<line x1="198.5" y1="589.5999999999999" x2="198.5" y2="602.3999999999999" stroke="#000" stroke-width="1.4"/>
<line x1="237.7" y1="589.5999999999999" x2="237.7" y2="602.3999999999999" stroke="#000" stroke-width="1.4"/>
<text transform="translate(44.25,503.25) scale(1.028,1)" font-size="16.92" style="font-family:'Liberation Serif',serif">50</text>
<text transform="translate(44.26,551.60) scale(1.015,1)" font-size="17.05" style="font-family:'Liberation Serif',serif">25</text>
<text transform="translate(51.38,596.25) scale(0.985,1)" font-size="16.92" style="font-family:'Liberation Serif',serif">0</text>
<polygon points="270.8,590.0 270.8,497.0 288.2,497.0 289.5,500.0 291.4,526.9 293.0,533.3 294.6,539.6 296.1,547.5 297.7,557.0 299.3,566.6 300.9,572.9 302.5,577.7 305.7,580.8 308.8,583.4 313.6,585.3 318.4,587.5 318.4,590.0" fill="#525252"/>
<polygon points="270.8,590.0 270.8,497.0 288.2,497.0 289.5,500.0 291.4,526.9 293.0,533.3 294.6,539.6 296.1,547.5 297.7,557.0 299.3,566.6 300.9,572.9 302.5,577.7 305.7,580.8 308.8,583.4 313.6,585.3 318.4,587.5 318.4,590.0" fill="url(#gp)" stroke="#000" stroke-width="1.3"/>
<polyline points="270.8,588.0 271.8,588.0 271.8,586.7 272.9,586.7 272.9,585.1 273.9,585.1 273.9,584.0 275.0,584.0 275.0,582.5 276.0,582.5 276.0,581.6 277.1,581.6 277.1,580.8 278.2,580.8 278.2,579.5 279.2,579.5 279.2,577.0 280.3,577.0 280.3,576.1 281.4,576.1 281.4,574.6 282.4,574.6 282.4,572.8 283.5,572.8 283.5,571.3 284.5,571.3 284.5,568.0 285.6,568.0 285.6,565.8 286.6,565.8 286.6,563.4 287.7,563.4 287.7,560.9 288.7,560.9 288.7,558.2 289.8,558.2 289.8,555.5 290.9,555.5 290.9,552.8 291.9,552.8 291.9,551.9 293.0,551.9 293.0,549.1 294.6,549.1 294.6,542.8 296.1,533.3 297.7,523.7 299.3,514.2 300.9,504.7 302.5,504.7 302.5,498.3 304.1,498.3 304.1,497.0 305.1,497.0 305.1,497.4 306.1,497.4 306.1,497.7 307.2,497.7 307.2,496.4 308.2,496.4 308.2,496.7 309.2,496.7 309.2,496.4 310.2,496.4 310.2,497.4 311.2,497.4 311.2,496.7 312.3,496.7 312.3,496.5 313.3,496.5 313.3,496.9 314.3,496.9 314.3,497.6 315.3,497.6 315.3,497.4 316.4,497.4 316.4,496.7 317.4,496.7 317.4,496.5 318.4,496.5 318.4,497.0 319.3,504.7 320.6,511.0 322.5,511.0 322.5,517.4 324.1,517.4 324.1,523.7 325.7,523.7 325.7,528.5 327.2,528.5 327.2,533.3 328.8,533.3 328.8,536.4 330.4,536.4 330.4,541.2 332.0,541.2 332.0,545.9 333.6,545.9 333.6,550.7 335.2,550.7 335.2,553.8 336.8,553.8 336.8,557.0 337.9,557.0 337.9,558.4 339.0,558.4 339.0,558.6 340.6,558.6 340.6,561.8 342.2,561.8 342.2,563.4 343.4,563.4 343.4,565.1 344.7,565.1 344.7,566.6 345.8,566.6 345.8,569.2 346.9,569.2 346.9,571.3 348.0,571.3 348.0,572.0 349.1,572.0 349.1,573.9 350.4,573.9 350.4,574.4 351.7,574.4 351.7,576.1 352.9,576.1 352.9,577.5 354.2,577.5 354.2,578.3 355.3,578.3 355.3,579.4 356.4,579.4 356.4,580.8 357.5,580.8 357.5,581.8 358.7,581.8 358.7,584.0 359.9,584.0 359.9,585.1 361.2,585.1 361.2,585.0 362.3,585.0 362.3,585.6 363.3,585.6 363.3,586.2 364.4,586.2 364.4,586.2 365.6,586.2 365.6,586.2 366.8,586.2 366.8,587.9 368.0,587.9 368.0,588.0" fill="none" stroke="#000" stroke-width="1.3" stroke-linejoin="miter" stroke-miterlimit="2"/>
<polyline points="289.5,497.0 290.0,525.0 291.0,533.0" fill="none" stroke="#000" stroke-width="1.3" stroke-linejoin="miter" stroke-miterlimit="2"/>
<polyline points="323.1,589.4 324.7,587.4 326.3,589.4" fill="none" stroke="#000" stroke-width="1.3" stroke-linejoin="miter" stroke-miterlimit="2"/>
<polyline points="327.9,589.4 329.5,587.4 331.1,589.4" fill="none" stroke="#000" stroke-width="1.3" stroke-linejoin="miter" stroke-miterlimit="2"/>
<polyline points="332.6,589.4 334.2,587.4 335.8,589.4" fill="none" stroke="#000" stroke-width="1.3" stroke-linejoin="miter" stroke-miterlimit="2"/>
<polyline points="337.4,589.4 339.0,587.4 340.6,589.4" fill="none" stroke="#000" stroke-width="1.3" stroke-linejoin="miter" stroke-miterlimit="2"/>
<polyline points="342.1,589.4 343.7,587.4 345.3,589.4" fill="none" stroke="#000" stroke-width="1.3" stroke-linejoin="miter" stroke-miterlimit="2"/>
<polyline points="348.5,589.4 350.1,587.4 351.7,589.4" fill="none" stroke="#000" stroke-width="1.3" stroke-linejoin="miter" stroke-miterlimit="2"/>
<rect x="268.8" y="496.4" width="2.5" height="94.4" fill="#000"/>
<line x1="268.8" y1="497.0" x2="429.3" y2="497.0" stroke="#000" stroke-width="1.3"/>
<line x1="428.7" y1="497.0" x2="428.7" y2="590.0" stroke="#000" stroke-width="1.2"/>
<line x1="268.8" y1="590.0" x2="429.3" y2="590.0" stroke="#000" stroke-width="2.3"/>
<line x1="259.9" y1="498.4" x2="268.8" y2="498.4" stroke="#000" stroke-width="1.4"/>
<line x1="259.9" y1="545.6" x2="268.8" y2="545.6" stroke="#000" stroke-width="1.4"/>
<line x1="259.9" y1="591.5" x2="268.8" y2="591.5" stroke="#000" stroke-width="1.4"/>
<line x1="269.3" y1="590.0" x2="269.3" y2="592.2" stroke="#000" stroke-width="1"/>
<line x1="271.9" y1="590.0" x2="271.9" y2="602.8" stroke="#000" stroke-width="1.4"/>
<line x1="311" y1="590.0" x2="311" y2="602.8" stroke="#000" stroke-width="1.4"/>
<line x1="350" y1="590.0" x2="350" y2="602.8" stroke="#000" stroke-width="1.4"/>
<line x1="389.2" y1="590.0" x2="389.2" y2="602.8" stroke="#000" stroke-width="1.4"/>
<line x1="428.2" y1="590.0" x2="428.2" y2="602.8" stroke="#000" stroke-width="1.4"/>
<polygon points="80.0,706.6 80.0,613.3 87.0,613.3 87.5,618.4 88.1,635.7 89.0,638.0 89.8,651.8 91.0,654.0 91.6,663.4 92.2,672.6 93.3,677.2 94.5,681.8 95.6,686.5 97.3,691.1 99.1,695.7 101.4,697.4 104.8,698.6 107.2,699.7 110.6,701.5 116.4,702.0 118.7,702.6 122.0,704.0 122.0,706.6" fill="#525252"/>
<polygon points="80.0,706.6 80.0,613.3 87.0,613.3 87.5,618.4 88.1,635.7 89.0,638.0 89.8,651.8 91.0,654.0 91.6,663.4 92.2,672.6 93.3,677.2 94.5,681.8 95.6,686.5 97.3,691.1 99.1,695.7 101.4,697.4 104.8,698.6 107.2,699.7 110.6,701.5 116.4,702.0 118.7,702.6 122.0,704.0 122.0,706.6" fill="url(#gp)" stroke="#000" stroke-width="1.3"/>
<polyline points="80.0,658.8 81.0,658.8 81.0,658.8 82.9,658.8 82.9,663.4 84.7,663.4 84.7,668.0 86.4,668.0 86.4,672.6 87.5,677.2 88.7,677.2 88.7,674.9 89.8,674.9 89.8,672.6 91.0,672.6 91.0,676.0 92.2,676.0 92.2,672.6 93.3,677.2 94.5,670.9 95.6,677.2 96.8,677.2 96.8,673.8 97.9,673.8 97.9,675.0 99.1,675.0 99.1,677.2 100.2,672.6 101.4,672.6 101.4,673.8 102.5,665.1 103.7,672.6 104.8,677.2 106.0,683.0 107.2,677.2 108.3,677.2 108.3,680.7 109.5,680.7 109.5,677.2 110.6,677.2 110.6,678.4 111.8,678.4 111.8,679.5 113.0,679.5 113.0,677.2 114.1,677.2 114.1,678.4 115.2,678.4 115.2,677.2 116.4,677.2 116.4,679.5 117.5,679.5 117.5,680.7 119.3,680.7 119.3,677.2 120.5,677.2 120.5,680.7 122.2,680.7 122.2,686.5 123.4,686.5 123.4,687.6 124.5,687.6 124.5,686.5 125.6,686.5 125.6,688.8 126.8,688.8 126.8,686.5 127.9,686.5 127.9,689.9 129.7,689.9 129.7,684.2 130.8,688.8 132.5,688.8 132.5,689.9 134.3,689.9 134.3,692.2 135.6,692.2 135.6,691.5 136.9,691.5 136.9,692.1 138.5,692.1 138.5,693.5 140.0,693.5 140.0,692.1 141.6,692.1 141.6,693.5 143.2,693.5 143.2,692.1 144.8,692.1 144.8,693.5 146.4,693.5 146.4,695.3 148.0,695.3 148.0,694.0 149.6,694.0 149.6,696.8 151.2,696.8 151.2,698.4 152.2,698.4 152.2,699.4 153.3,699.4 153.3,699.4 154.3,699.4 154.3,700.0 155.4,700.0 155.4,700.3 156.4,700.3 156.4,701.1 157.5,701.1 157.5,701.6 158.6,701.6 158.6,702.4 159.8,702.4 159.8,701.7 160.9,701.7 160.9,701.8 162.0,701.8 162.0,702.5 163.0,702.5 163.0,702.7 164.0,702.7 164.0,702.5 165.0,702.5 165.0,702.5 166.0,702.5 166.0,702.7 167.0,702.7 167.0,702.7 168.0,702.7 168.0,703.5" fill="none" stroke="#000" stroke-width="1.3" stroke-linejoin="miter" stroke-miterlimit="2"/>
<polyline points="99.1,695.7 100.2,695.7 100.2,696.1 101.4,696.1 101.4,697.4 102.5,697.4 102.5,697.5 103.7,697.5 103.7,697.9 104.8,697.9 104.8,698.6 106.0,698.6 106.0,699.5 107.2,699.5 107.2,699.7 108.3,699.7 108.3,700.0 109.5,700.0 109.5,700.9 110.6,700.9 110.6,701.5 111.7,701.5 111.7,700.7 112.9,700.7 112.9,700.6 114.0,700.6 114.0,700.5 115.2,700.5 115.2,700.6 116.4,700.6 116.4,702.0 117.6,702.0 117.6,700.4 118.7,700.4 118.7,699.5 119.5,699.5 119.5,702.6 120.6,702.6 120.6,702.1 121.8,702.1 121.8,703.4 122.9,703.4 122.9,703.3 124.0,703.3 124.0,703.5" fill="none" stroke="#000" stroke-width="1.3" stroke-linejoin="miter" stroke-miterlimit="2"/>
<polyline points="160.4,706.0 162.0,704.0 163.6,706.0" fill="none" stroke="#000" stroke-width="1.3" stroke-linejoin="miter" stroke-miterlimit="2"/>
<polyline points="166.4,706.0 168.0,704.0 169.6,706.0" fill="none" stroke="#000" stroke-width="1.3" stroke-linejoin="miter" stroke-miterlimit="2"/>
<polyline points="182.9,706.0 184.5,704.0 186.1,706.0" fill="none" stroke="#000" stroke-width="1.3" stroke-linejoin="miter" stroke-miterlimit="2"/>
<rect x="77.3" y="612.6999999999999" width="2.6000000000000085" height="94.69999999999996" fill="#000"/>
<line x1="77.3" y1="613.3" x2="238.2" y2="613.3" stroke="#000" stroke-width="1.3"/>
<line x1="237.6" y1="613.3" x2="237.6" y2="706.5999999999999" stroke="#000" stroke-width="1.2"/>
<line x1="77.3" y1="706.5999999999999" x2="238.2" y2="706.5999999999999" stroke="#000" stroke-width="2.3"/>
<line x1="68.4" y1="614.7" x2="77.3" y2="614.7" stroke="#000" stroke-width="1.4"/>
<line x1="68.4" y1="662.0" x2="77.3" y2="662.0" stroke="#000" stroke-width="1.4"/>
<line x1="68.4" y1="708.1" x2="77.3" y2="708.1" stroke="#000" stroke-width="1.4"/>
<line x1="77.8" y1="706.5999999999999" x2="77.8" y2="708.8" stroke="#000" stroke-width="1"/>
<line x1="80.4" y1="706.5999999999999" x2="80.4" y2="719.3999999999999" stroke="#000" stroke-width="1.4"/>
<line x1="119.5" y1="706.5999999999999" x2="119.5" y2="719.3999999999999" stroke="#000" stroke-width="1.4"/>
<line x1="159" y1="706.5999999999999" x2="159" y2="719.3999999999999" stroke="#000" stroke-width="1.4"/>
<line x1="198.5" y1="706.5999999999999" x2="198.5" y2="719.3999999999999" stroke="#000" stroke-width="1.4"/>
<line x1="237.7" y1="706.5999999999999" x2="237.7" y2="719.3999999999999" stroke="#000" stroke-width="1.4"/>
<text transform="translate(44.25,619.95) scale(1.028,1)" font-size="16.92" style="font-family:'Liberation Serif',serif">50</text>
<text transform="translate(44.26,668.45) scale(1.015,1)" font-size="17.05" style="font-family:'Liberation Serif',serif">25</text>
<text transform="translate(51.38,713.25) scale(0.985,1)" font-size="16.92" style="font-family:'Liberation Serif',serif">0</text>
<polygon points="271.8,707.0 271.8,613.7 277.5,613.7 279.1,621.5 279.8,634.9 281.0,648.4 282.3,663.8 283.7,673.4 285.2,681.1 287.2,688.8 289.1,694.5 292.0,698.4 294.8,700.3 298.7,702.2 304.5,703.2 304.5,707.0" fill="#525252"/>
<polygon points="271.8,707.0 271.8,613.7 277.5,613.7 279.1,621.5 279.8,634.9 281.0,648.4 282.3,663.8 283.7,673.4 285.2,681.1 287.2,688.8 289.1,694.5 292.0,698.4 294.8,700.3 298.7,702.2 304.5,703.2 304.5,707.0" fill="url(#gp)" stroke="#000" stroke-width="1.3"/>
<polyline points="271.8,671.5 273.7,671.5 273.7,675.3 275.6,675.3 275.6,681.0 277.5,681.0 277.5,677.2 278.5,677.2 278.5,680.6 279.5,680.6 279.5,684.9 281.4,684.9 281.4,681.1 283.3,681.1 283.3,686.8 285.2,686.8 285.2,685.0 286.2,685.0 286.2,687.8 287.2,687.8 287.2,690.7 289.1,690.7 289.1,688.8 291.0,688.8 291.0,692.6 292.9,692.6 292.9,694.5 294.8,694.5 294.8,698.4 295.8,698.4 295.8,698.1 296.8,698.1 296.8,696.5 298.7,696.5 298.7,698.4 300.6,698.4 300.6,697.4 302.5,697.4 302.5,696.5 303.5,696.5 303.5,696.9 304.5,696.9 304.5,698.4 306.4,698.4 306.4,696.5 308.3,696.5 308.3,700.3 309.3,700.3 309.3,699.8 310.3,699.8 310.3,698.4 312.2,698.4 312.2,701.3 314.1,701.3 314.1,696.5 316.0,696.5 316.0,698.4 317.9,698.4 317.9,700.3 318.9,700.3 318.9,699.3 319.9,699.3 319.9,698.4 321.8,698.4 321.8,700.3 323.7,700.3 323.7,699.4 325.6,699.4 325.6,702.2 326.9,702.2 326.9,702.3 328.2,702.3 328.2,702.9 329.5,702.9 329.5,702.6 330.6,702.6 330.6,702.6 331.8,702.6 331.8,702.8 332.9,702.8 332.9,703.2 334.1,703.2 334.1,703.8 335.2,703.8 335.2,703.2 336.3,703.2 336.3,703.0 337.5,703.0 337.5,703.8 338.6,703.8 338.6,703.6 339.7,703.6 339.7,703.6 340.9,703.6 340.9,703.3 342.0,703.3 342.0,703.5" fill="none" stroke="#000" stroke-width="1.3" stroke-linejoin="miter" stroke-miterlimit="2"/>
<polyline points="343.2,706.4 344.8,704.4 346.4,706.4" fill="none" stroke="#000" stroke-width="1.3" stroke-linejoin="miter" stroke-miterlimit="2"/>
<polyline points="352.9,706.4 354.5,704.4 356.1,706.4" fill="none" stroke="#000" stroke-width="1.3" stroke-linejoin="miter" stroke-miterlimit="2"/>
<rect x="268.8" y="613.0999999999999" width="2.5" height="94.70000000000007" fill="#000"/>
<line x1="268.8" y1="613.6999999999999" x2="429.3" y2="613.6999999999999" stroke="#000" stroke-width="1.3"/>
<line x1="428.7" y1="613.6999999999999" x2="428.7" y2="707.0" stroke="#000" stroke-width="1.2"/>
<line x1="268.8" y1="707.0" x2="429.3" y2="707.0" stroke="#000" stroke-width="2.3"/>
<line x1="259.9" y1="615.1" x2="268.8" y2="615.1" stroke="#000" stroke-width="1.4"/>
<line x1="259.9" y1="662.4" x2="268.8" y2="662.4" stroke="#000" stroke-width="1.4"/>
<line x1="259.9" y1="708.5" x2="268.8" y2="708.5" stroke="#000" stroke-width="1.4"/>
<line x1="269.3" y1="707.0" x2="269.3" y2="709.2" stroke="#000" stroke-width="1"/>
<line x1="271.9" y1="707.0" x2="271.9" y2="719.8" stroke="#000" stroke-width="1.4"/>
<line x1="311" y1="707.0" x2="311" y2="719.8" stroke="#000" stroke-width="1.4"/>
<line x1="350" y1="707.0" x2="350" y2="719.8" stroke="#000" stroke-width="1.4"/>
<line x1="389.2" y1="707.0" x2="389.2" y2="719.8" stroke="#000" stroke-width="1.4"/>
<line x1="428.2" y1="707.0" x2="428.2" y2="719.8" stroke="#000" stroke-width="1.4"/>
<polygon points="80.0,826.1 80.0,768.5 81.2,758.2 81.5,750.0 83.5,747.7 85.4,745.4 86.9,740.0 87.5,733.9 87.5,733.1 100.8,733.1 102.0,736.2 103.5,734.0 104.5,740.0 105.4,736.2 106.2,740.0 107.7,753.8 109.6,754.6 110.4,764.6 112.3,765.4 113.5,770.0 114.2,786.2 116.2,790.0 118.5,793.8 120.0,800.0 120.4,807.8 121.6,814.7 123.3,819.3 126.8,821.6 131.0,823.5 131.0,826.1" fill="#525252"/>
<polygon points="80.0,826.1 80.0,768.5 81.2,758.2 81.5,750.0 83.5,747.7 85.4,745.4 86.9,740.0 87.5,733.9 87.5,733.1 100.8,733.1 102.0,736.2 103.5,734.0 104.5,740.0 105.4,736.2 106.2,740.0 107.7,753.8 109.6,754.6 110.4,764.6 112.3,765.4 113.5,770.0 114.2,786.2 116.2,790.0 118.5,793.8 120.0,800.0 120.4,807.8 121.6,814.7 123.3,819.3 126.8,821.6 131.0,823.5 131.0,826.1" fill="url(#gp)" stroke="#000" stroke-width="1.3"/>
<polyline points="80.0,823.5 81.0,823.5 81.0,823.2 82.0,823.2 82.0,822.8 83.0,822.8 83.0,822.8 84.0,822.8 84.0,822.7 85.0,822.7 85.0,823.6 86.0,823.6 86.0,822.9 87.0,822.9 87.0,822.7 88.0,822.7 88.0,822.5 89.0,822.5 89.0,823.5 90.0,823.5 90.0,823.0 91.0,823.0 91.0,823.5 92.0,823.5 92.0,823.3 93.0,823.3 93.0,822.8 94.0,822.8 94.0,822.8 95.0,822.8 95.0,822.9 96.0,822.9 96.0,823.1 97.0,823.1 97.0,822.7 98.0,822.7 98.0,823.2 99.0,823.2 99.0,822.9 100.0,822.9 100.0,823.3 101.0,823.3 101.0,823.9 102.0,823.9 102.0,823.8 103.0,823.8 103.0,823.1 104.0,823.1 104.0,822.6 105.0,822.6 105.0,823.6 106.0,823.6 106.0,822.6 107.0,822.6 107.0,822.5 108.0,822.5 108.0,822.0 109.0,822.0 109.0,822.4 110.0,822.4 110.0,822.5 111.0,822.5 111.0,822.5 112.0,822.5 112.0,822.6 113.0,822.6 113.0,822.2 114.0,822.2 114.0,822.7 115.0,822.7 115.0,822.0 116.0,822.0 116.0,822.4 117.0,822.4 117.0,822.2 118.0,822.2 118.0,822.8 119.0,822.8 119.0,822.2 120.0,822.2 120.0,821.3 121.0,821.3 121.0,820.8 122.0,820.8 122.0,821.0 123.2,821.0 123.2,819.3 124.5,819.3 124.5,818.2 125.8,818.2 125.8,816.2 127.0,816.2 127.0,815.0 128.1,815.0 128.1,813.8 129.1,813.8 129.1,812.4 131.0,812.4 131.0,812.4 132.5,812.4 132.5,807.8 134.3,807.8 134.3,806.6 135.6,806.6 135.6,804.9 136.9,804.9 136.9,803.2 138.5,803.2 138.5,799.0 140.0,799.0 140.0,803.0 141.6,803.0 141.6,798.4 143.2,798.4 143.2,801.0 144.8,801.0 144.8,796.8 146.4,796.8 146.4,799.5 148.0,799.5 148.0,795.2 149.6,795.2 149.6,797.0 151.2,790.5 152.8,790.5 152.8,793.5 154.3,793.5 154.3,788.9 155.9,788.9 155.9,792.0 157.5,784.1 159.1,784.1 159.1,787.0 160.7,777.8 162.3,777.8 162.3,774.6 163.2,780.0 164.5,768.3 166.1,758.7 167.7,750.8 169.2,744.5 170.8,744.5 170.8,738.1 172.4,738.1 172.4,733.1 173.4,733.1 173.4,733.5 174.4,733.5 174.4,733.3 175.4,733.3 175.4,733.4 176.4,733.4 176.4,733.6 177.4,733.6 177.4,732.9 178.4,732.9 178.4,732.9 179.5,732.9 179.5,733.8 180.5,733.8 180.5,732.6 181.5,732.6 181.5,733.4 182.5,733.4 182.5,733.3 183.5,733.3 183.5,732.5 184.5,732.5 184.5,733.1 185.4,742.9 186.7,749.2 188.3,749.2 188.3,755.6 189.9,755.6 189.9,762.0 191.5,762.0 191.5,768.3 193.0,774.6 194.6,774.6 194.6,779.4 196.2,779.4 196.2,785.7 197.8,785.7 197.8,790.5 199.4,790.5 199.4,795.2 201.0,795.2 201.0,800.0 202.6,800.0 202.6,806.3 204.1,806.3 204.1,811.1 205.7,811.1 205.7,815.8 207.3,815.8 207.3,819.0 208.6,819.0 208.6,820.6 209.9,820.6 209.9,821.2 210.9,821.2 210.9,822.5 212.0,822.5 212.0,822.9 213.0,822.9 213.0,823.5" fill="none" stroke="#000" stroke-width="1.3" stroke-linejoin="miter" stroke-miterlimit="2"/>
<polyline points="113.9,752.3 113.9,765.4" fill="none" stroke="#000" stroke-width="1.3" stroke-linejoin="miter" stroke-miterlimit="2"/>
<polyline points="107.5,736.0 107.5,760.0" fill="none" stroke="#000" stroke-width="1.3" stroke-linejoin="miter" stroke-miterlimit="2"/>
<rect x="77.3" y="732.4999999999999" width="2.6000000000000085" height="94.4" fill="#000"/>
<line x1="77.3" y1="733.0999999999999" x2="238.2" y2="733.0999999999999" stroke="#000" stroke-width="1.3"/>
<line x1="237.6" y1="733.0999999999999" x2="237.6" y2="826.0999999999999" stroke="#000" stroke-width="1.2"/>
<line x1="77.3" y1="826.0999999999999" x2="238.2" y2="826.0999999999999" stroke="#000" stroke-width="2.3"/>
<line x1="68.4" y1="734.5" x2="77.3" y2="734.5" stroke="#000" stroke-width="1.4"/>
<line x1="68.4" y1="781.6" x2="77.3" y2="781.6" stroke="#000" stroke-width="1.4"/>
<line x1="68.4" y1="827.6" x2="77.3" y2="827.6" stroke="#000" stroke-width="1.4"/>
<line x1="77.8" y1="826.0999999999999" x2="77.8" y2="828.3" stroke="#000" stroke-width="1"/>
<line x1="80.4" y1="826.0999999999999" x2="80.4" y2="838.8999999999999" stroke="#000" stroke-width="1.4"/>
<line x1="119.5" y1="826.0999999999999" x2="119.5" y2="838.8999999999999" stroke="#000" stroke-width="1.4"/>
<line x1="159" y1="826.0999999999999" x2="159" y2="838.8999999999999" stroke="#000" stroke-width="1.4"/>
<line x1="198.5" y1="826.0999999999999" x2="198.5" y2="838.8999999999999" stroke="#000" stroke-width="1.4"/>
<line x1="237.7" y1="826.0999999999999" x2="237.7" y2="838.8999999999999" stroke="#000" stroke-width="1.4"/>
<text transform="translate(44.25,739.75) scale(1.028,1)" font-size="16.92" style="font-family:'Liberation Serif',serif">50</text>
<text transform="translate(44.26,788.10) scale(1.015,1)" font-size="17.05" style="font-family:'Liberation Serif',serif">25</text>
<text transform="translate(51.38,832.75) scale(0.985,1)" font-size="16.92" style="font-family:'Liberation Serif',serif">0</text>
<polygon points="270.8,826.5 270.8,766.0 272.0,757.0 273.2,751.0 275.0,746.0 276.6,742.4 278.5,740.0 279.5,734.7 279.5,733.5 288.0,733.5 288.6,741.0 289.4,733.5 291.0,733.5 291.7,743.0 292.5,733.5 296.8,733.5 297.7,739.5 299.2,745.3 300.1,755.9 301.6,764.5 304.0,766.5 305.4,768.4 306.4,787.6 308.3,789.5 309.8,795.3 310.5,803.0 312.2,810.0 314.1,814.5 316.0,819.0 320.0,821.5 327.0,823.5 327.0,826.5" fill="#525252"/>
<polygon points="270.8,826.5 270.8,766.0 272.0,757.0 273.2,751.0 275.0,746.0 276.6,742.4 278.5,740.0 279.5,734.7 279.5,733.5 288.0,733.5 288.6,741.0 289.4,733.5 291.0,733.5 291.7,743.0 292.5,733.5 296.8,733.5 297.7,739.5 299.2,745.3 300.1,755.9 301.6,764.5 304.0,766.5 305.4,768.4 306.4,787.6 308.3,789.5 309.8,795.3 310.5,803.0 312.2,810.0 314.1,814.5 316.0,819.0 320.0,821.5 327.0,823.5 327.0,826.5" fill="url(#gp)" stroke="#000" stroke-width="1.3"/>
<polyline points="272.0,825.0 273.0,825.0 273.0,825.3 274.0,825.3 274.0,825.3 275.0,825.3 275.0,824.3 276.0,824.3 276.0,824.8 277.0,824.8 277.0,824.7 278.0,824.7 278.0,825.1 279.0,825.1 279.0,825.0 280.0,825.0 280.0,824.5 281.0,824.5 281.0,824.7 282.0,824.7 282.0,824.1 283.0,824.1 283.0,824.3 284.0,824.3 284.0,823.8 285.0,823.8 285.0,823.5 286.0,823.5 286.0,823.0 287.0,823.0 287.0,821.9 288.0,821.9 288.0,820.8 289.0,820.8 289.0,820.2 290.0,820.2 290.0,819.7 291.0,819.7 291.0,818.6 292.0,818.6 292.0,818.4 293.0,818.4 293.0,818.6 294.0,818.6 294.0,817.9 295.0,817.9 295.0,817.7 296.0,817.7 296.0,817.5 297.0,817.5 297.0,817.0 298.1,817.0 298.1,816.4 299.2,816.4 299.2,815.2 300.3,815.2 300.3,813.7 301.4,813.7 301.4,813.9 302.5,813.9 302.5,812.6 303.5,812.6 303.5,809.1 304.5,809.1 304.5,805.0 306.4,805.0 306.4,801.0 308.3,801.0 308.3,795.3 310.2,795.3 310.2,790.5 311.2,783.8 312.5,783.8 312.5,782.0 314.1,782.0 314.1,778.0 315.0,771.3 316.8,771.3 316.8,768.0 318.4,768.0 318.4,763.5 319.9,763.5 319.9,762.0 321.5,762.0 321.5,757.1 323.1,757.1 323.1,755.6 324.7,755.6 324.7,758.7 326.3,758.7 326.3,761.9 327.9,761.9 327.9,760.3 329.5,760.3 329.5,763.5 331.0,763.5 331.0,765.0 332.6,765.0 332.6,768.3 334.2,768.3 334.2,771.4 335.8,771.4 335.8,765.0 337.4,765.0 337.4,761.9 339.0,761.9 339.0,760.3 340.6,760.3 340.6,758.7 342.2,758.7 342.2,757.1 343.7,757.1 343.7,758.7 345.3,758.7 345.3,755.6 346.9,755.6 346.9,757.1 348.5,757.1 348.5,754.0 350.1,754.0 350.1,755.6 351.7,755.6 351.7,752.4 353.3,752.4 353.3,754.0 354.8,754.0 354.8,749.2 356.4,757.1 358.0,757.1 358.0,758.7 359.6,768.3 361.2,777.8 362.8,787.3 364.4,795.2 366.0,803.2 367.5,809.5 369.1,809.5 369.1,814.3 370.7,814.3 370.7,817.4 371.8,817.4 371.8,818.2 372.8,818.2 372.8,819.0 373.9,819.0 373.9,819.7 375.0,819.7 375.0,820.4 376.0,820.4 376.0,820.1 377.1,820.1 377.1,821.2 378.4,821.2 378.4,822.3 379.7,822.3 379.7,822.4 381.0,822.4 381.0,823.5" fill="none" stroke="#000" stroke-width="1.3" stroke-linejoin="miter" stroke-miterlimit="2"/>
<polyline points="305.0,754.0 305.0,767.0" fill="none" stroke="#000" stroke-width="1.3" stroke-linejoin="miter" stroke-miterlimit="2"/>
<polyline points="306.6,769.0 306.6,790.0" fill="none" stroke="#000" stroke-width="1.3" stroke-linejoin="miter" stroke-miterlimit="2"/>
<rect x="268.8" y="732.9" width="2.5" height="94.4" fill="#000"/>
<line x1="268.8" y1="733.5" x2="429.3" y2="733.5" stroke="#000" stroke-width="1.3"/>
<line x1="428.7" y1="733.5" x2="428.7" y2="826.5" stroke="#000" stroke-width="1.2"/>
<line x1="268.8" y1="826.5" x2="429.3" y2="826.5" stroke="#000" stroke-width="2.3"/>
<line x1="259.9" y1="734.9" x2="268.8" y2="734.9" stroke="#000" stroke-width="1.4"/>
<line x1="259.9" y1="782.1" x2="268.8" y2="782.1" stroke="#000" stroke-width="1.4"/>
<line x1="259.9" y1="828.0" x2="268.8" y2="828.0" stroke="#000" stroke-width="1.4"/>
<line x1="269.3" y1="826.5" x2="269.3" y2="828.7" stroke="#000" stroke-width="1"/>
<line x1="271.9" y1="826.5" x2="271.9" y2="839.3" stroke="#000" stroke-width="1.4"/>
<line x1="311" y1="826.5" x2="311" y2="839.3" stroke="#000" stroke-width="1.4"/>
<line x1="350" y1="826.5" x2="350" y2="839.3" stroke="#000" stroke-width="1.4"/>
<line x1="389.2" y1="826.5" x2="389.2" y2="839.3" stroke="#000" stroke-width="1.4"/>
<line x1="428.2" y1="826.5" x2="428.2" y2="839.3" stroke="#000" stroke-width="1.4"/>
<polygon points="80.0,942.6 80.0,849.1 98.8,849.1 99.8,862.0 101.0,874.7 102.9,887.4 105.1,897.0 106.7,904.9 108.3,911.2 109.9,917.6 111.5,923.9 113.1,928.7 114.7,931.8 117.8,935.0 122.6,936.9 127.0,938.5 127.0,942.6" fill="#525252"/>
<polygon points="80.0,942.6 80.0,849.1 98.8,849.1 99.8,862.0 101.0,874.7 102.9,887.4 105.1,897.0 106.7,904.9 108.3,911.2 109.9,917.6 111.5,923.9 113.1,928.7 114.7,931.8 117.8,935.0 122.6,936.9 127.0,938.5 127.0,942.6" fill="url(#gp)" stroke="#000" stroke-width="1.3"/>
<polyline points="80.2,930.0 81.8,922.0 83.8,910.0 85.4,897.0 87.0,881.0 88.6,868.0 90.2,859.0 91.6,849.1" fill="none" stroke="#bbb" stroke-width="0.9"/>
<polyline points="81.0,938.0 82.5,930.0 83.5,930.0 83.5,925.6 84.5,925.6 84.5,922.3 86.0,910.0 87.7,897.0 89.3,881.1 90.9,868.4 92.5,858.9 94.0,849.1" fill="none" stroke="#000" stroke-width="1.3" stroke-linejoin="miter" stroke-miterlimit="2"/>
<polyline points="100.5,849.1 101.2,860.0 102.0,868.4 103.6,881.1 105.1,889.0 106.7,889.0 106.7,895.4 108.3,895.4 108.3,901.7 109.9,901.7 109.9,908.0 111.5,908.0 111.5,909.6 113.1,909.6 113.1,914.4 114.7,914.4 114.7,917.6 116.3,917.6 116.3,920.7 117.8,920.7 117.8,925.5 119.4,925.5 119.4,928.7 121.0,928.7 121.0,933.4 122.6,933.4 122.6,935.0 123.7,935.0 123.7,935.0 124.7,935.0 124.7,936.0 125.8,936.0 125.8,936.0 127.0,936.0 127.0,935.7 128.2,935.7 128.2,936.6 129.3,936.6 129.3,937.1 130.5,937.1 130.5,936.6 131.7,936.6 131.7,936.7 132.9,936.7 132.9,936.6 134.1,936.6 134.1,936.9 135.3,936.9 135.3,937.0" fill="none" stroke="#000" stroke-width="1.3" stroke-linejoin="miter" stroke-miterlimit="2"/>
<polyline points="125.8,942.0 127.4,940.0 129.0,942.0" fill="none" stroke="#000" stroke-width="1.3" stroke-linejoin="miter" stroke-miterlimit="2"/>
<polyline points="132.1,942.0 133.7,940.0 135.3,942.0" fill="none" stroke="#000" stroke-width="1.3" stroke-linejoin="miter" stroke-miterlimit="2"/>
<polyline points="138.4,942.0 140.0,940.0 141.6,942.0" fill="none" stroke="#000" stroke-width="1.3" stroke-linejoin="miter" stroke-miterlimit="2"/>
<polyline points="141.6,942.0 143.2,940.0 144.8,942.0" fill="none" stroke="#000" stroke-width="1.3" stroke-linejoin="miter" stroke-miterlimit="2"/>
<polyline points="149.6,942.0 151.2,940.0 152.8,942.0" fill="none" stroke="#000" stroke-width="1.3" stroke-linejoin="miter" stroke-miterlimit="2"/>
<polyline points="159.1,942.0 160.7,940.0 162.3,942.0" fill="none" stroke="#000" stroke-width="1.3" stroke-linejoin="miter" stroke-miterlimit="2"/>
<rect x="77.3" y="848.4999999999999" width="2.6000000000000085" height="94.9" fill="#000"/>
<line x1="77.3" y1="849.0999999999999" x2="238.2" y2="849.0999999999999" stroke="#000" stroke-width="1.3"/>
<line x1="237.6" y1="849.0999999999999" x2="237.6" y2="942.5999999999999" stroke="#000" stroke-width="1.2"/>
<line x1="77.3" y1="942.5999999999999" x2="238.2" y2="942.5999999999999" stroke="#000" stroke-width="2.3"/>
<line x1="68.4" y1="850.5" x2="77.3" y2="850.5" stroke="#000" stroke-width="1.4"/>
<line x1="68.4" y1="897.9" x2="77.3" y2="897.9" stroke="#000" stroke-width="1.4"/>
<line x1="68.4" y1="944.1" x2="77.3" y2="944.1" stroke="#000" stroke-width="1.4"/>
<line x1="77.8" y1="942.5999999999999" x2="77.8" y2="944.8" stroke="#000" stroke-width="1"/>
<line x1="80.4" y1="942.5999999999999" x2="80.4" y2="955.3999999999999" stroke="#000" stroke-width="1.4"/>
<line x1="119.5" y1="942.5999999999999" x2="119.5" y2="955.3999999999999" stroke="#000" stroke-width="1.4"/>
<line x1="159" y1="942.5999999999999" x2="159" y2="955.3999999999999" stroke="#000" stroke-width="1.4"/>
<line x1="198.5" y1="942.5999999999999" x2="198.5" y2="955.3999999999999" stroke="#000" stroke-width="1.4"/>
<line x1="237.7" y1="942.5999999999999" x2="237.7" y2="955.3999999999999" stroke="#000" stroke-width="1.4"/>
<text transform="translate(44.25,855.75) scale(1.028,1)" font-size="16.92" style="font-family:'Liberation Serif',serif">50</text>
<text transform="translate(44.26,904.35) scale(1.015,1)" font-size="17.05" style="font-family:'Liberation Serif',serif">25</text>
<text transform="translate(51.38,949.25) scale(0.985,1)" font-size="16.92" style="font-family:'Liberation Serif',serif">0</text>
<polygon points="270.5,943.0 270.5,849.5 289.6,849.5 290.9,856.5 292.2,869.9 293.6,883.4 294.9,891.5 297.0,903.6 298.3,911.6 300.3,919.7 301.7,926.4 303.7,931.8 306.4,934.5 310.4,937.2 314.5,939.2 314.5,943.0" fill="#525252"/>
<polygon points="270.5,943.0 270.5,849.5 289.6,849.5 290.9,856.5 292.2,869.9 293.6,883.4 294.9,891.5 297.0,903.6 298.3,911.6 300.3,919.7 301.7,926.4 303.7,931.8 306.4,934.5 310.4,937.2 314.5,939.2 314.5,943.0" fill="url(#gp)" stroke="#000" stroke-width="1.3"/>
<polyline points="270.4,915.0 272.0,905.0 274.0,890.0 276.0,875.0 278.0,860.0 279.6,850.0" fill="none" stroke="#bbb" stroke-width="0.9"/>
<polyline points="271.4,923.8 273.0,910.0 275.0,893.0 277.0,877.0 279.0,862.0 280.8,849.5" fill="none" stroke="#000" stroke-width="1.3" stroke-linejoin="miter" stroke-miterlimit="2"/>
<polyline points="300.3,849.5 301.7,859.2 303.0,869.9 304.4,880.7 305.7,891.5 307.0,902.2 308.4,902.2 308.4,907.6 309.7,907.6 309.7,911.6 310.4,899.5 311.0,911.0 312.4,923.8 313.4,923.8 313.4,924.7 314.5,924.7 314.5,925.1 315.8,925.1 315.8,927.5 317.1,927.5 317.1,929.1 318.1,929.1 318.1,929.3 319.2,929.3 319.2,929.1 320.2,929.1 320.2,928.3 321.2,928.3 321.2,927.1 322.5,927.1 322.5,930.5 323.5,930.5 323.5,927.9 324.5,927.9 324.5,926.4 325.5,926.4 325.5,927.0 326.5,927.0 326.5,928.5 327.9,928.5 327.9,926.4 328.9,926.4 328.9,927.4 329.9,927.4 329.9,929.1 330.9,929.1 330.9,930.1 332.0,930.1 332.0,930.5 333.0,930.5 333.0,931.6 334.0,931.6 334.0,933.2 335.0,933.2 335.0,934.4 336.0,934.4 336.0,935.5 337.2,935.5 337.2,935.6 338.5,935.6 338.5,937.0 339.7,937.0 339.7,936.7 340.8,936.7 340.8,937.3 342.0,937.3 342.0,938.0" fill="none" stroke="#000" stroke-width="1.3" stroke-linejoin="miter" stroke-miterlimit="2"/>
<polyline points="303.4,942.4 305.0,940.4 306.6,942.4" fill="none" stroke="#000" stroke-width="1.3" stroke-linejoin="miter" stroke-miterlimit="2"/>
<polyline points="308.8,942.4 310.4,940.4 312.0,942.4" fill="none" stroke="#000" stroke-width="1.3" stroke-linejoin="miter" stroke-miterlimit="2"/>
<polyline points="315.5,942.4 317.1,940.4 318.7,942.4" fill="none" stroke="#000" stroke-width="1.3" stroke-linejoin="miter" stroke-miterlimit="2"/>
<polyline points="323.6,942.4 325.2,940.4 326.8,942.4" fill="none" stroke="#000" stroke-width="1.3" stroke-linejoin="miter" stroke-miterlimit="2"/>
<polyline points="330.4,942.4 332.0,940.4 333.6,942.4" fill="none" stroke="#000" stroke-width="1.3" stroke-linejoin="miter" stroke-miterlimit="2"/>
<polyline points="340.6,942.4 342.2,940.4 343.8,942.4" fill="none" stroke="#000" stroke-width="1.3" stroke-linejoin="miter" stroke-miterlimit="2"/>
<polyline points="345.3,942.4 346.9,940.4 348.5,942.4" fill="none" stroke="#000" stroke-width="1.3" stroke-linejoin="miter" stroke-miterlimit="2"/>
<polyline points="350.1,942.4 351.7,940.4 353.3,942.4" fill="none" stroke="#000" stroke-width="1.3" stroke-linejoin="miter" stroke-miterlimit="2"/>
<rect x="268.8" y="848.9" width="2.5" height="94.9" fill="#000"/>
<line x1="268.8" y1="849.5" x2="429.3" y2="849.5" stroke="#000" stroke-width="1.3"/>
<line x1="428.7" y1="849.5" x2="428.7" y2="943.0" stroke="#000" stroke-width="1.2"/>
<line x1="268.8" y1="943.0" x2="429.3" y2="943.0" stroke="#000" stroke-width="2.3"/>
<line x1="259.9" y1="850.9" x2="268.8" y2="850.9" stroke="#000" stroke-width="1.4"/>
<line x1="259.9" y1="898.3" x2="268.8" y2="898.3" stroke="#000" stroke-width="1.4"/>
<line x1="259.9" y1="944.5" x2="268.8" y2="944.5" stroke="#000" stroke-width="1.4"/>
<line x1="269.3" y1="943.0" x2="269.3" y2="945.2" stroke="#000" stroke-width="1"/>
<line x1="271.9" y1="943.0" x2="271.9" y2="955.8" stroke="#000" stroke-width="1.4"/>
<line x1="311" y1="943.0" x2="311" y2="955.8" stroke="#000" stroke-width="1.4"/>
<line x1="350" y1="943.0" x2="350" y2="955.8" stroke="#000" stroke-width="1.4"/>
<line x1="389.2" y1="943.0" x2="389.2" y2="955.8" stroke="#000" stroke-width="1.4"/>
<line x1="428.2" y1="943.0" x2="428.2" y2="955.8" stroke="#000" stroke-width="1.4"/>
<polygon points="80.0,1057.6 80.0,965.1 82.9,965.1 84.1,974.0 84.7,985.5 86.4,989.0 88.1,993.6 89.5,996.0 91.0,1007.5 93.3,1010.9 95.0,1016.7 96.8,1023.6 99.1,1027.1 100.8,1030.5 103.1,1034.0 105.4,1037.5 107.7,1040.9 110.6,1044.4 112.9,1046.7 115.8,1050.2 118.7,1052.5 121.0,1054.2 125.0,1055.5 125.0,1057.6" fill="#525252"/>
<polygon points="80.0,1057.6 80.0,965.1 82.9,965.1 84.1,974.0 84.7,985.5 86.4,989.0 88.1,993.6 89.5,996.0 91.0,1007.5 93.3,1010.9 95.0,1016.7 96.8,1023.6 99.1,1027.1 100.8,1030.5 103.1,1034.0 105.4,1037.5 107.7,1040.9 110.6,1044.4 112.9,1046.7 115.8,1050.2 118.7,1052.5 121.0,1054.2 125.0,1055.5 125.0,1057.6" fill="url(#gp)" stroke="#000" stroke-width="1.3"/>
<polyline points="83.5,965.1 84.6,974.0 85.2,985.5 87.0,985.5 87.0,987.0 88.5,987.0 88.5,990.0 90.0,990.0 90.0,993.0 91.6,993.0 91.6,993.6 92.0,1007.5 93.8,1007.5 93.8,1008.0 95.5,1008.0 95.5,1012.0 97.0,1012.0 97.0,1017.5 98.5,1017.5 98.5,1019.0 100.2,1019.0 100.2,1021.9 101.4,1028.0 103.0,1028.0 103.0,1031.0 104.5,1031.0 104.5,1034.5 106.0,1034.5 106.0,1037.0 107.7,1037.0 107.7,1039.5 109.2,1039.5 109.2,1041.0 110.6,1041.0 110.6,1042.1 111.8,1042.1 111.8,1042.1 112.9,1042.1 112.9,1041.5 114.1,1041.5 114.1,1043.2 115.2,1043.2 115.2,1044.5 116.3,1044.5 116.3,1045.3 117.5,1045.3 117.5,1046.7 119.3,1046.7 119.3,1049.0 121.0,1049.0 121.0,1051.3 122.2,1051.3 122.2,1051.7 123.3,1051.7 123.3,1052.1 124.5,1052.1 124.5,1052.5 125.7,1052.5 125.7,1052.0 126.8,1052.0 126.8,1051.1 127.9,1051.1 127.9,1051.7 129.1,1051.7 129.1,1050.7 130.2,1050.7 130.2,1051.0 131.4,1051.0 131.4,1052.9 132.5,1052.9 132.5,1053.0 133.9,1053.0 133.9,1053.9 135.3,1053.9 135.3,1053.5" fill="none" stroke="#000" stroke-width="1.3" stroke-linejoin="miter" stroke-miterlimit="2"/>
<polyline points="82.5,975.0 84.0,990.0 85.2,990.0 85.2,994.3 86.5,994.3 86.5,1000.0 88.5,1010.0 89.5,1010.0 89.5,1013.9 90.5,1013.9 90.5,1018.0 91.8,1018.0 91.8,1022.4 93.0,1022.4 93.0,1026.0 94.0,1026.0 94.0,1029.3 95.0,1029.3 95.0,1031.3 96.0,1031.3 96.0,1034.0 97.0,1034.0 97.0,1035.7 98.0,1035.7 98.0,1037.6 99.0,1037.6 99.0,1040.0 100.0,1040.0 100.0,1042.3 101.0,1042.3 101.0,1042.9 102.0,1042.9 102.0,1045.0 103.0,1045.0 103.0,1046.1 104.0,1046.1 104.0,1046.5 105.0,1046.5 105.0,1048.0 106.0,1048.0 106.0,1049.0 107.0,1049.0 107.0,1050.4 108.0,1050.4 108.0,1050.0 109.0,1050.0 109.0,1051.7 110.0,1051.7 110.0,1052.0" fill="none" stroke="#000" stroke-width="1.3" stroke-linejoin="miter" stroke-miterlimit="2"/>
<polyline points="136.4,1057.0 138.0,1055.4 139.6,1057.0" fill="none" stroke="#000" stroke-width="1.3" stroke-linejoin="miter" stroke-miterlimit="2"/>
<polyline points="140.4,1057.0 142.0,1055.4 143.6,1057.0" fill="none" stroke="#000" stroke-width="1.3" stroke-linejoin="miter" stroke-miterlimit="2"/>
<polyline points="144.4,1057.0 146.0,1055.4 147.6,1057.0" fill="none" stroke="#000" stroke-width="1.3" stroke-linejoin="miter" stroke-miterlimit="2"/>
<polyline points="148.4,1057.0 150.0,1055.4 151.6,1057.0" fill="none" stroke="#000" stroke-width="1.3" stroke-linejoin="miter" stroke-miterlimit="2"/>
<polyline points="152.4,1057.0 154.0,1055.4 155.6,1057.0" fill="none" stroke="#000" stroke-width="1.3" stroke-linejoin="miter" stroke-miterlimit="2"/>
<polyline points="156.4,1057.0 158.0,1055.4 159.6,1057.0" fill="none" stroke="#000" stroke-width="1.3" stroke-linejoin="miter" stroke-miterlimit="2"/>
<polyline points="160.4,1057.0 162.0,1055.4 163.6,1057.0" fill="none" stroke="#000" stroke-width="1.3" stroke-linejoin="miter" stroke-miterlimit="2"/>
<polyline points="164.4,1057.0 166.0,1055.4 167.6,1057.0" fill="none" stroke="#000" stroke-width="1.3" stroke-linejoin="miter" stroke-miterlimit="2"/>
<polyline points="168.4,1057.0 170.0,1055.4 171.6,1057.0" fill="none" stroke="#000" stroke-width="1.3" stroke-linejoin="miter" stroke-miterlimit="2"/>
<polyline points="172.4,1057.0 174.0,1055.4 175.6,1057.0" fill="none" stroke="#000" stroke-width="1.3" stroke-linejoin="miter" stroke-miterlimit="2"/>
<polyline points="176.4,1057.0 178.0,1055.4 179.6,1057.0" fill="none" stroke="#000" stroke-width="1.3" stroke-linejoin="miter" stroke-miterlimit="2"/>
<polyline points="180.4,1057.0 182.0,1055.4 183.6,1057.0" fill="none" stroke="#000" stroke-width="1.3" stroke-linejoin="miter" stroke-miterlimit="2"/>
<polyline points="184.4,1057.0 186.0,1055.4 187.6,1057.0" fill="none" stroke="#000" stroke-width="1.3" stroke-linejoin="miter" stroke-miterlimit="2"/>
<polyline points="188.4,1057.0 190.0,1055.4 191.6,1057.0" fill="none" stroke="#000" stroke-width="1.3" stroke-linejoin="miter" stroke-miterlimit="2"/>
<polyline points="192.4,1057.0 194.0,1055.4 195.6,1057.0" fill="none" stroke="#000" stroke-width="1.3" stroke-linejoin="miter" stroke-miterlimit="2"/>
<rect x="77.3" y="964.4999999999999" width="2.6000000000000085" height="93.9" fill="#000"/>
<line x1="77.3" y1="965.0999999999999" x2="238.2" y2="965.0999999999999" stroke="#000" stroke-width="1.3"/>
<line x1="237.6" y1="965.0999999999999" x2="237.6" y2="1057.6" stroke="#000" stroke-width="1.2"/>
<line x1="77.3" y1="1057.6" x2="238.2" y2="1057.6" stroke="#000" stroke-width="2.3"/>
<line x1="68.4" y1="966.5" x2="77.3" y2="966.5" stroke="#000" stroke-width="1.4"/>
<line x1="68.4" y1="1013.4" x2="77.3" y2="1013.4" stroke="#000" stroke-width="1.4"/>
<line x1="68.4" y1="1059.1" x2="77.3" y2="1059.1" stroke="#000" stroke-width="1.4"/>
<line x1="77.8" y1="1057.6" x2="77.8" y2="1059.8" stroke="#000" stroke-width="1"/>
<line x1="80.4" y1="1057.6" x2="80.4" y2="1070.3999999999999" stroke="#000" stroke-width="1.4"/>
<line x1="119.5" y1="1057.6" x2="119.5" y2="1070.3999999999999" stroke="#000" stroke-width="1.4"/>
<line x1="159" y1="1057.6" x2="159" y2="1070.3999999999999" stroke="#000" stroke-width="1.4"/>
<line x1="198.5" y1="1057.6" x2="198.5" y2="1070.3999999999999" stroke="#000" stroke-width="1.4"/>
<line x1="237.7" y1="1057.6" x2="237.7" y2="1070.3999999999999" stroke="#000" stroke-width="1.4"/>
<text transform="translate(44.25,971.75) scale(1.028,1)" font-size="16.92" style="font-family:'Liberation Serif',serif">50</text>
<text transform="translate(44.26,1019.85) scale(1.015,1)" font-size="17.05" style="font-family:'Liberation Serif',serif">25</text>
<text transform="translate(51.38,1064.25) scale(0.985,1)" font-size="16.92" style="font-family:'Liberation Serif',serif">0</text>
<polygon points="270.8,1058.4 270.8,965.3 273.9,965.3 275.5,984.4 277.0,989.0 278.7,993.9 280.3,1000.3 281.9,1006.6 283.5,1012.9 285.0,1017.7 286.6,1022.5 288.2,1025.6 289.8,1028.8 291.4,1032.0 293.0,1035.2 294.6,1038.3 296.1,1041.5 297.7,1044.7 300.3,1047.8 303.4,1050.4 307.3,1052.0 312.0,1054.0 312.0,1058.4" fill="#525252"/>
<polygon points="270.8,1058.4 270.8,965.3 273.9,965.3 275.5,984.4 277.0,989.0 278.7,993.9 280.3,1000.3 281.9,1006.6 283.5,1012.9 285.0,1017.7 286.6,1022.5 288.2,1025.6 289.8,1028.8 291.4,1032.0 293.0,1035.2 294.6,1038.3 296.1,1041.5 297.7,1044.7 300.3,1047.8 303.4,1050.4 307.3,1052.0 312.0,1054.0 312.0,1058.4" fill="url(#gp)" stroke="#000" stroke-width="1.3"/>
<polyline points="274.8,965.3 276.0,980.0 277.0,985.0 278.5,985.0 278.5,987.0 279.5,992.0 281.0,992.0 281.0,997.0 282.5,997.0 282.5,1003.0 284.0,1003.0 284.0,1008.0 285.8,1008.0 285.8,1013.0 287.5,1013.0 287.5,1019.0 289.0,1019.0 289.0,1022.0 290.8,1022.0 290.8,1026.0 292.5,1026.0 292.5,1030.0 294.0,1030.0 294.0,1033.0 295.0,1033.0 295.0,1035.0 296.0,1035.0 296.0,1037.0 297.0,1037.0 297.0,1039.5 298.0,1039.5 298.0,1041.0 299.2,1041.0 299.2,1043.3 300.5,1043.3 300.5,1045.0 301.5,1045.0 301.5,1045.8 302.5,1045.8 302.5,1047.9 303.5,1047.9 303.5,1048.5 304.7,1048.5 304.7,1049.3 305.8,1049.3 305.8,1049.5 307.0,1049.5 307.0,1051.0 308.0,1051.0 308.0,1050.8 309.0,1050.8 309.0,1052.0 310.0,1052.0 310.0,1052.4 311.0,1052.4 311.0,1053.0 312.0,1053.0 312.0,1053.2 313.0,1053.2 313.0,1053.5 314.0,1053.5 314.0,1054.3 315.0,1054.3 315.0,1055.0" fill="none" stroke="#000" stroke-width="1.3" stroke-linejoin="miter" stroke-miterlimit="2"/>
<polyline points="273.0,1052.0 273.5,1000.0 274.0,975.0" fill="none" stroke="#000" stroke-width="1.3" stroke-linejoin="miter" stroke-miterlimit="2"/>
<polyline points="316.8,1057.8 318.4,1055.8 320.0,1057.8" fill="none" stroke="#000" stroke-width="1.3" stroke-linejoin="miter" stroke-miterlimit="2"/>
<polyline points="324.7,1057.8 326.3,1055.8 327.9,1057.8" fill="none" stroke="#000" stroke-width="1.3" stroke-linejoin="miter" stroke-miterlimit="2"/>
<polyline points="346.9,1057.8 348.5,1055.8 350.1,1057.8" fill="none" stroke="#000" stroke-width="1.3" stroke-linejoin="miter" stroke-miterlimit="2"/>
<polyline points="365.9,1057.8 367.5,1055.8 369.1,1057.8" fill="none" stroke="#000" stroke-width="1.3" stroke-linejoin="miter" stroke-miterlimit="2"/>
<rect x="268.8" y="964.6999999999999" width="2.5" height="94.49999999999991" fill="#000"/>
<line x1="268.8" y1="965.3" x2="429.3" y2="965.3" stroke="#000" stroke-width="1.3"/>
<line x1="428.7" y1="965.3" x2="428.7" y2="1058.3999999999999" stroke="#000" stroke-width="1.2"/>
<line x1="268.8" y1="1058.3999999999999" x2="429.3" y2="1058.3999999999999" stroke="#000" stroke-width="2.3"/>
<line x1="259.9" y1="966.7" x2="268.8" y2="966.7" stroke="#000" stroke-width="1.4"/>
<line x1="259.9" y1="1013.9" x2="268.8" y2="1013.9" stroke="#000" stroke-width="1.4"/>
<line x1="259.9" y1="1059.9" x2="268.8" y2="1059.9" stroke="#000" stroke-width="1.4"/>
<line x1="269.3" y1="1058.3999999999999" x2="269.3" y2="1060.6" stroke="#000" stroke-width="1"/>
<line x1="271.9" y1="1058.3999999999999" x2="271.9" y2="1071.1999999999998" stroke="#000" stroke-width="1.4"/>
<line x1="311" y1="1058.3999999999999" x2="311" y2="1071.1999999999998" stroke="#000" stroke-width="1.4"/>
<line x1="350" y1="1058.3999999999999" x2="350" y2="1071.1999999999998" stroke="#000" stroke-width="1.4"/>
<line x1="389.2" y1="1058.3999999999999" x2="389.2" y2="1071.1999999999998" stroke="#000" stroke-width="1.4"/>
<line x1="428.2" y1="1058.3999999999999" x2="428.2" y2="1071.1999999999998" stroke="#000" stroke-width="1.4"/>
<text transform="translate(206.85,51.20) scale(0.896,1)" font-size="16.07">60</text>
<text transform="translate(198.94,69.30) scale(1.021,1)" font-size="15.79">(80)</text>
<path transform="translate(206.20,166.40) scale(15.377,17.071)" d="M0.44,0 L0.44,-0.705 L0.31,-0.705 C0.27,-0.62 0.19,-0.585 0.075,-0.57 L0.075,-0.46 C0.16,-0.47 0.24,-0.50 0.285,-0.545 L0.285,0 Z" fill="#000" stroke="#000" stroke-width="0.0146"/><text transform="translate(206.20,166.40) scale(0.901,1)" font-size="17.07"> 2</text>
<text transform="translate(200.30,185.80) scale(1.017,1)" font-size="16.62">(23)</text>
<text transform="translate(207.46,283.60) scale(0.985,1)" font-size="17.07">92</text>
<text transform="translate(197.50,301.60) scale(1.084,1)" font-size="15.66">(67)</text>
<text transform="translate(206.07,399.50) scale(0.971,1)" font-size="17.07">95</text>
<path transform="translate(196.02,418.20) scale(16.152,14.690)" d="M0.44,0 L0.44,-0.705 L0.31,-0.705 C0.27,-0.62 0.19,-0.585 0.075,-0.57 L0.075,-0.46 C0.16,-0.47 0.24,-0.50 0.285,-0.545 L0.285,0 Z" fill="#000" stroke="#000" stroke-width="0.0170"/><path transform="translate(213.99,418.20) scale(16.152,14.690)" d="M0.44,0 L0.44,-0.705 L0.31,-0.705 C0.27,-0.62 0.19,-0.585 0.075,-0.57 L0.075,-0.46 C0.16,-0.47 0.24,-0.50 0.285,-0.545 L0.285,0 Z" fill="#000" stroke="#000" stroke-width="0.0170"/><text transform="translate(190.64,418.20) scale(1.100,1)" font-size="14.69">( 4 )</text>
<text transform="translate(206.07,517.70) scale(0.971,1)" font-size="17.07">65</text>
<text transform="translate(198.92,535.70) scale(1.057,1)" font-size="15.66">(57)</text>
<path transform="translate(206.15,632.90) scale(16.000,17.214)" d="M0.44,0 L0.44,-0.705 L0.31,-0.705 C0.27,-0.62 0.19,-0.585 0.075,-0.57 L0.075,-0.46 C0.16,-0.47 0.24,-0.50 0.285,-0.545 L0.285,0 Z" fill="#000" stroke="#000" stroke-width="0.0145"/><text transform="translate(206.15,632.90) scale(0.929,1)" font-size="17.21"> 3</text>
<path transform="translate(213.29,650.90) scale(16.131,15.655)" d="M0.44,0 L0.44,-0.705 L0.31,-0.705 C0.27,-0.62 0.19,-0.585 0.075,-0.57 L0.075,-0.46 C0.16,-0.47 0.24,-0.50 0.285,-0.545 L0.285,0 Z" fill="#000" stroke="#000" stroke-width="0.0160"/><text transform="translate(198.94,650.90) scale(1.030,1)" font-size="15.66">(2 )</text>
<text transform="translate(206.81,750.20) scale(0.944,1)" font-size="16.21">98</text>
<text transform="translate(192.74,767.50) scale(1.097,1)" font-size="14.69">(375)</text>
<path transform="translate(209.98,866.00) scale(15.616,16.304)" d="M0.44,0 L0.44,-0.705 L0.31,-0.705 C0.27,-0.62 0.19,-0.585 0.075,-0.57 L0.075,-0.46 C0.16,-0.47 0.24,-0.50 0.285,-0.545 L0.285,0 Z" fill="#000" stroke="#000" stroke-width="0.0153"/><text transform="translate(209.98,866.00) scale(0.958,1)" font-size="16.30"> </text>
<path transform="translate(204.43,884.70) scale(16.548,15.655)" d="M0.44,0 L0.44,-0.705 L0.31,-0.705 C0.27,-0.62 0.19,-0.585 0.075,-0.57 L0.075,-0.46 C0.16,-0.47 0.24,-0.50 0.285,-0.545 L0.285,0 Z" fill="#000" stroke="#000" stroke-width="0.0160"/><text transform="translate(198.92,884.70) scale(1.057,1)" font-size="15.66">( 6)</text>
<path transform="translate(210.08,984.50) scale(15.616,19.203)" d="M0.44,0 L0.44,-0.705 L0.31,-0.705 C0.27,-0.62 0.19,-0.585 0.075,-0.57 L0.075,-0.46 C0.16,-0.47 0.24,-0.50 0.285,-0.545 L0.285,0 Z" fill="#000" stroke="#000" stroke-width="0.0130"/><text transform="translate(210.08,984.50) scale(0.813,1)" font-size="19.20"> </text>
<path transform="translate(397.16,51.20) scale(15.842,16.304)" d="M0.44,0 L0.44,-0.705 L0.31,-0.705 C0.27,-0.62 0.19,-0.585 0.075,-0.57 L0.075,-0.46 C0.16,-0.47 0.24,-0.50 0.285,-0.545 L0.285,0 Z" fill="#000" stroke="#000" stroke-width="0.0153"/><text transform="translate(397.16,51.20) scale(0.972,1)" font-size="16.30"> 5</text>
<path transform="translate(404.64,69.30) scale(16.548,14.828)" d="M0.44,0 L0.44,-0.705 L0.31,-0.705 C0.27,-0.62 0.19,-0.585 0.075,-0.57 L0.075,-0.46 C0.16,-0.47 0.24,-0.50 0.285,-0.545 L0.285,0 Z" fill="#000" stroke="#000" stroke-width="0.0169"/><text transform="translate(389.92,69.30) scale(1.116,1)" font-size="14.83">(2 )</text>
<path transform="translate(404.38,164.30) scale(15.616,16.304)" d="M0.44,0 L0.44,-0.705 L0.31,-0.705 C0.27,-0.62 0.19,-0.585 0.075,-0.57 L0.075,-0.46 C0.16,-0.47 0.24,-0.50 0.285,-0.545 L0.285,0 Z" fill="#000" stroke="#000" stroke-width="0.0153"/><text transform="translate(404.38,164.30) scale(0.958,1)" font-size="16.30"> </text>
<path transform="translate(396.93,183.10) scale(16.905,14.828)" d="M0.44,0 L0.44,-0.705 L0.31,-0.705 C0.27,-0.62 0.19,-0.585 0.075,-0.57 L0.075,-0.46 C0.16,-0.47 0.24,-0.50 0.285,-0.545 L0.285,0 Z" fill="#000" stroke="#000" stroke-width="0.0169"/><text transform="translate(391.30,183.10) scale(1.140,1)" font-size="14.83">( 4)</text>
<text transform="translate(399.87,285.50) scale(0.923,1)" font-size="17.50">50</text>
<text transform="translate(391.30,302.30) scale(1.151,1)" font-size="14.69">(23)</text>
<text transform="translate(398.57,400.20) scale(0.986,1)" font-size="16.21">83</text>
<text transform="translate(391.30,418.20) scale(1.151,1)" font-size="14.69">(57)</text>
<text transform="translate(398.82,516.30) scale(0.901,1)" font-size="17.32">45</text>
<text transform="translate(389.92,535.00) scale(1.057,1)" font-size="15.66">(36)</text>
<text transform="translate(403.02,631.50) scale(1.118,1)" font-size="16.21">2</text>
<path transform="translate(395.43,650.20) scale(16.548,15.655)" d="M0.44,0 L0.44,-0.705 L0.31,-0.705 C0.27,-0.62 0.19,-0.585 0.075,-0.57 L0.075,-0.46 C0.16,-0.47 0.24,-0.50 0.285,-0.545 L0.285,0 Z" fill="#000" stroke="#000" stroke-width="0.0160"/><text transform="translate(389.92,650.20) scale(1.057,1)" font-size="15.66">( 8)</text>
<text transform="translate(398.92,752.20) scale(1.015,1)" font-size="16.07">76</text>
<path transform="translate(406.34,769.60) scale(16.905,14.828)" d="M0.44,0 L0.44,-0.705 L0.31,-0.705 C0.27,-0.62 0.19,-0.585 0.075,-0.57 L0.075,-0.46 C0.16,-0.47 0.24,-0.50 0.285,-0.545 L0.285,0 Z" fill="#000" stroke="#000" stroke-width="0.0169"/><text transform="translate(391.30,769.60) scale(1.140,1)" font-size="14.83">(9 )</text>
<path transform="translate(395.74,867.40) scale(16.080,17.071)" d="M0.44,0 L0.44,-0.705 L0.31,-0.705 C0.27,-0.62 0.19,-0.585 0.075,-0.57 L0.075,-0.46 C0.16,-0.47 0.24,-0.50 0.285,-0.545 L0.285,0 Z" fill="#000" stroke="#000" stroke-width="0.0146"/><text transform="translate(395.74,867.40) scale(0.942,1)" font-size="17.07"> 0</text>
<text transform="translate(389.24,885.40) scale(1.098,1)" font-size="14.69">(24)</text>
<text transform="translate(402.38,984.80) scale(1.028,1)" font-size="18.64">0</text>
<path transform="translate(482.46,87.60) scale(15.675,16.786)" d="M0.44,0 L0.44,-0.705 L0.31,-0.705 C0.27,-0.62 0.19,-0.585 0.075,-0.57 L0.075,-0.46 C0.16,-0.47 0.24,-0.50 0.285,-0.545 L0.285,0 Z" fill="#000" stroke="#000" stroke-width="0.0149"/><text transform="translate(459.82,87.60) scale(0.934,1)" font-size="16.79">CD a</text>
<text transform="translate(459.82,200.50) scale(0.944,1)" font-size="16.79">CD83</text>
<path transform="translate(483.21,320.00) scale(16.348,16.786)" d="M0.44,0 L0.44,-0.705 L0.31,-0.705 C0.27,-0.62 0.19,-0.585 0.075,-0.57 L0.075,-0.46 C0.16,-0.47 0.24,-0.50 0.285,-0.545 L0.285,0 Z" fill="#000" stroke="#000" stroke-width="0.0149"/><path transform="translate(492.30,320.00) scale(16.348,16.786)" d="M0.44,0 L0.44,-0.705 L0.31,-0.705 C0.27,-0.62 0.19,-0.585 0.075,-0.57 L0.075,-0.46 C0.16,-0.47 0.24,-0.50 0.285,-0.545 L0.285,0 Z" fill="#000" stroke="#000" stroke-width="0.0149"/><text transform="translate(459.60,320.00) scale(0.974,1)" font-size="16.79">CD  c</text>
<text transform="translate(458.86,433.30) scale(0.897,1)" font-size="17.03">HLA-DR</text>
<text transform="translate(459.60,554.30) scale(0.966,1)" font-size="16.79">CD86</text>
<text transform="translate(459.60,670.00) scale(0.968,1)" font-size="16.79">CD80</text>
<text transform="translate(459.60,784.60) scale(0.968,1)" font-size="16.79">CD40</text>
<path transform="translate(482.52,898.90) scale(15.857,16.786)" d="M0.44,0 L0.44,-0.705 L0.31,-0.705 C0.27,-0.62 0.19,-0.585 0.075,-0.57 L0.075,-0.46 C0.16,-0.47 0.24,-0.50 0.285,-0.545 L0.285,0 Z" fill="#000" stroke="#000" stroke-width="0.0149"/><text transform="translate(459.62,898.90) scale(0.945,1)" font-size="16.79">CD 4</text>
<path transform="translate(484.49,1017.90) scale(17.258,16.786)" d="M0.44,0 L0.44,-0.705 L0.31,-0.705 C0.27,-0.62 0.19,-0.585 0.075,-0.57 L0.075,-0.46 C0.16,-0.47 0.24,-0.50 0.285,-0.545 L0.285,0 Z" fill="#000" stroke="#000" stroke-width="0.0149"/><text transform="translate(459.56,1017.90) scale(1.028,1)" font-size="16.79">CD 6</text>
<text transform="translate(141.61,15.60) scale(1.079,1)" font-size="17.17">Ctl</text>
<text transform="translate(333.34,15.60) scale(0.858,1)" font-size="18.04">IVIg</text>
<text transform="translate(172.30,1116.50) scale(0.920,1)" font-size="15.93">Fluorescence Intensity</text>
<text transform="translate(71.46,1094.20) scale(0.954,1)" font-size="16.92" style="font-family:'Liberation Serif',serif">10</text>
<text transform="translate(89.22,1089.60) scale(0.840,1)" font-size="15.86" style="font-family:'Liberation Serif',serif">0</text>
<text transform="translate(147.18,1094.40) scale(0.837,1)" font-size="17.52" style="font-family:'Liberation Serif',serif">10</text>
<text transform="translate(163.42,1090.20) scale(0.944,1)" font-size="16.59" style="font-family:'Liberation Serif',serif">2</text>
<text transform="translate(224.48,1094.70) scale(0.809,1)" font-size="18.12" style="font-family:'Liberation Serif',serif">10</text>
<text transform="translate(239.60,1090.50) scale(0.950,1)" font-size="17.20" style="font-family:'Liberation Serif',serif">4</text>
<text transform="translate(263.23,1094.70) scale(0.869,1)" font-size="17.52" style="font-family:'Liberation Serif',serif">10</text>
<text transform="translate(279.82,1090.50) scale(0.954,1)" font-size="16.47" style="font-family:'Liberation Serif',serif">0</text>
<text transform="translate(339.04,1094.70) scale(0.863,1)" font-size="17.52" style="font-family:'Liberation Serif',serif">10</text>
<text transform="translate(355.43,1090.50) scale(0.930,1)" font-size="16.59" style="font-family:'Liberation Serif',serif">2</text>
<text transform="translate(416.33,1094.70) scale(0.869,1)" font-size="17.52" style="font-family:'Liberation Serif',serif">10</text>
<text transform="translate(431.90,1090.80) scale(0.959,1)" font-size="17.05" style="font-family:'Liberation Serif',serif">4</text>
<text transform="translate(15.7,607.45) rotate(-90)" font-size="18.75">Cell Number</text>
</svg></body></html>
